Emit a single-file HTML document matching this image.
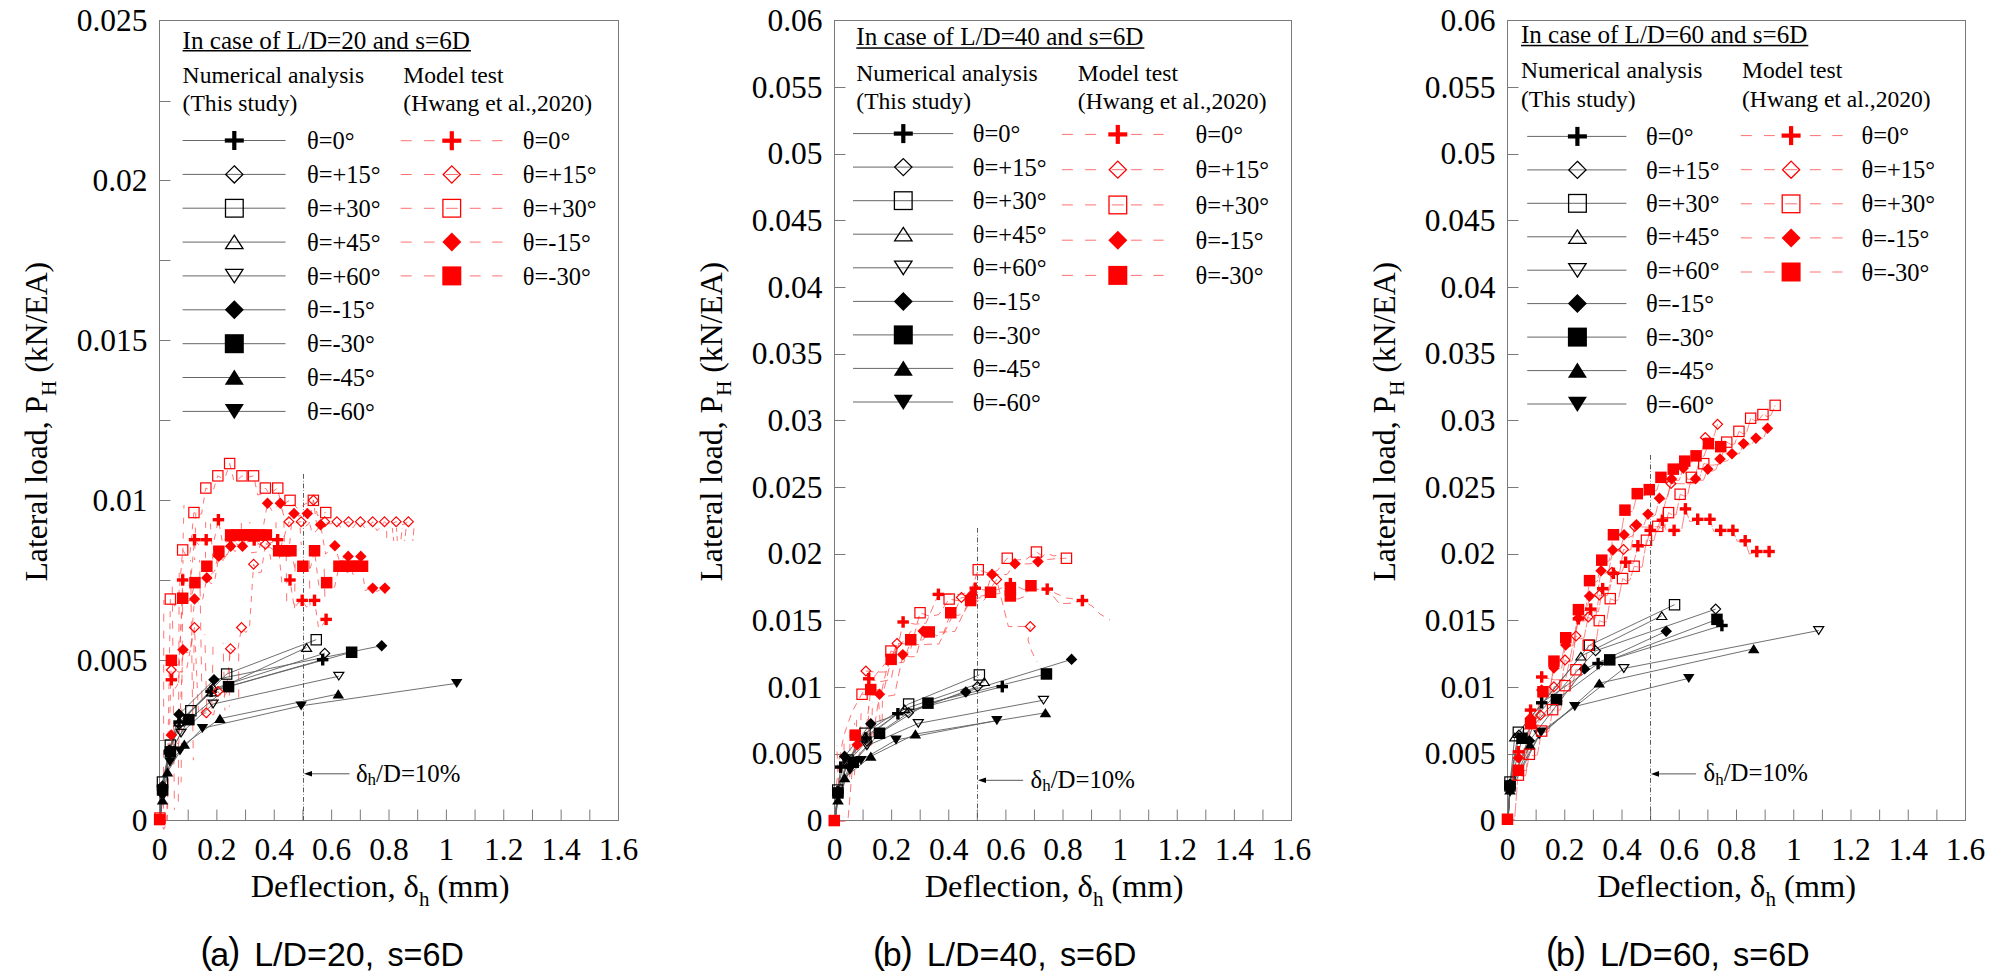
<!DOCTYPE html><html><head><meta charset="utf-8"><style>html,body{margin:0;padding:0;background:#fff;width:2008px;height:979px;overflow:hidden}svg{position:absolute;left:0;top:0}text{font-family:'Liberation Serif', serif;fill:#000}</style></head><body>
<svg width="2008" height="979" viewBox="0 0 2008 979">
<rect x="159.5" y="20.5" width="459.0" height="800.0" fill="none" stroke="#7a7a7a" stroke-width="1"/>
<line x1="159.5" y1="820.5" x2="170.5" y2="820.5" stroke="#7a7a7a" stroke-width="1"/>
<line x1="159.5" y1="740.5" x2="170.5" y2="740.5" stroke="#7a7a7a" stroke-width="1"/>
<line x1="159.5" y1="660.5" x2="170.5" y2="660.5" stroke="#7a7a7a" stroke-width="1"/>
<line x1="159.5" y1="580.5" x2="170.5" y2="580.5" stroke="#7a7a7a" stroke-width="1"/>
<line x1="159.5" y1="500.5" x2="170.5" y2="500.5" stroke="#7a7a7a" stroke-width="1"/>
<line x1="159.5" y1="420.5" x2="170.5" y2="420.5" stroke="#7a7a7a" stroke-width="1"/>
<line x1="159.5" y1="340.5" x2="170.5" y2="340.5" stroke="#7a7a7a" stroke-width="1"/>
<line x1="159.5" y1="260.5" x2="170.5" y2="260.5" stroke="#7a7a7a" stroke-width="1"/>
<line x1="159.5" y1="180.5" x2="170.5" y2="180.5" stroke="#7a7a7a" stroke-width="1"/>
<line x1="159.5" y1="101.5" x2="170.5" y2="101.5" stroke="#7a7a7a" stroke-width="1"/>
<line x1="159.5" y1="20.5" x2="170.5" y2="20.5" stroke="#7a7a7a" stroke-width="1"/>
<line x1="159.5" y1="820.5" x2="159.5" y2="809.5" stroke="#7a7a7a" stroke-width="1"/>
<line x1="188.1875" y1="820.5" x2="188.1875" y2="809.5" stroke="#7a7a7a" stroke-width="1"/>
<line x1="216.875" y1="820.5" x2="216.875" y2="809.5" stroke="#7a7a7a" stroke-width="1"/>
<line x1="245.5625" y1="820.5" x2="245.5625" y2="809.5" stroke="#7a7a7a" stroke-width="1"/>
<line x1="274.25" y1="820.5" x2="274.25" y2="809.5" stroke="#7a7a7a" stroke-width="1"/>
<line x1="302.9375" y1="820.5" x2="302.9375" y2="809.5" stroke="#7a7a7a" stroke-width="1"/>
<line x1="331.625" y1="820.5" x2="331.625" y2="809.5" stroke="#7a7a7a" stroke-width="1"/>
<line x1="360.3125" y1="820.5" x2="360.3125" y2="809.5" stroke="#7a7a7a" stroke-width="1"/>
<line x1="389.0" y1="820.5" x2="389.0" y2="809.5" stroke="#7a7a7a" stroke-width="1"/>
<line x1="417.6875" y1="820.5" x2="417.6875" y2="809.5" stroke="#7a7a7a" stroke-width="1"/>
<line x1="446.375" y1="820.5" x2="446.375" y2="809.5" stroke="#7a7a7a" stroke-width="1"/>
<line x1="475.0625" y1="820.5" x2="475.0625" y2="809.5" stroke="#7a7a7a" stroke-width="1"/>
<line x1="503.75000000000006" y1="820.5" x2="503.75000000000006" y2="809.5" stroke="#7a7a7a" stroke-width="1"/>
<line x1="532.4375" y1="820.5" x2="532.4375" y2="809.5" stroke="#7a7a7a" stroke-width="1"/>
<line x1="561.125" y1="820.5" x2="561.125" y2="809.5" stroke="#7a7a7a" stroke-width="1"/>
<line x1="589.8125" y1="820.5" x2="589.8125" y2="809.5" stroke="#7a7a7a" stroke-width="1"/>
<line x1="618.5" y1="820.5" x2="618.5" y2="809.5" stroke="#7a7a7a" stroke-width="1"/>
<text x="147.5" y="831.0" font-size="31.5" text-anchor="end" >0</text>
<text x="147.5" y="671.0" font-size="31.5" text-anchor="end" >0.005</text>
<text x="147.5" y="511.0" font-size="31.5" text-anchor="end" >0.01</text>
<text x="147.5" y="351.0" font-size="31.5" text-anchor="end" >0.015</text>
<text x="147.5" y="191.0" font-size="31.5" text-anchor="end" >0.02</text>
<text x="147.5" y="31.0" font-size="31.5" text-anchor="end" >0.025</text>
<text x="159.5" y="859.5" font-size="31.5" text-anchor="middle" >0</text>
<text x="216.9" y="859.5" font-size="31.5" text-anchor="middle" >0.2</text>
<text x="274.2" y="859.5" font-size="31.5" text-anchor="middle" >0.4</text>
<text x="331.6" y="859.5" font-size="31.5" text-anchor="middle" >0.6</text>
<text x="389.0" y="859.5" font-size="31.5" text-anchor="middle" >0.8</text>
<text x="446.4" y="859.5" font-size="31.5" text-anchor="middle" >1</text>
<text x="503.8" y="859.5" font-size="31.5" text-anchor="middle" >1.2</text>
<text x="561.1" y="859.5" font-size="31.5" text-anchor="middle" >1.4</text>
<text x="618.5" y="859.5" font-size="31.5" text-anchor="middle" >1.6</text>
<text x="250.7" y="897.3" font-size="32.4">Deflection, <tspan font-size="32.5">δ</tspan><tspan font-size="21" dy="8.2">h</tspan><tspan dy="-8.2"> (mm)</tspan></text>
<text transform="translate(47.0,581.5) rotate(-90)" font-size="31.7">Lateral load, P<tspan font-size="21" dy="9">H</tspan><tspan dy="-9"> (kN/EA)</tspan></text>
<text x="200.4" y="962.6" font-size="36" style="font-family:'Liberation Sans', sans-serif" >(</text>
<text x="210.2" y="965.6" font-size="34" style="font-family:'Liberation Sans', sans-serif" >a</text>
<text x="228.3" y="962.6" font-size="36" style="font-family:'Liberation Sans', sans-serif" >)</text>
<text x="254.2" y="965.6" font-size="34" style="font-family:'Liberation Sans', sans-serif" >L/D=20,</text>
<text x="387.4" y="965.6" font-size="34" style="font-family:'Liberation Sans', sans-serif" textLength="76.5" lengthAdjust="spacingAndGlyphs">s=6D</text>
<text x="182.6" y="48.6" font-size="24.5" textLength="287.3" lengthAdjust="spacingAndGlyphs">In case of L/D=20 and s=6D</text>
<rect x="182.6" y="50.0" width="288.3" height="1.5" fill="#000"/>
<text x="182.6" y="83.3" font-size="23.6" text-anchor="start" >Numerical analysis</text>
<text x="182.6" y="110.8" font-size="23.6" text-anchor="start" >(This study)</text>
<text x="403.3" y="83.3" font-size="23.6" text-anchor="start" >Model test</text>
<text x="403.3" y="110.8" font-size="23.6" text-anchor="start" >(Hwang et al.,2020)</text>
<line x1="182.6" y1="140.5" x2="285.5" y2="140.5" stroke="#666" stroke-width="1"/>
<rect x="224.8" y="138.4" width="19.0" height="4.2" fill="#000"/><rect x="232.2" y="131.0" width="4.2" height="19.0" fill="#000"/>
<text x="306.9" y="149.1" font-size="24.5" text-anchor="start" >θ=0°</text>
<line x1="182.6" y1="174.4" x2="285.5" y2="174.4" stroke="#666" stroke-width="1"/>
<polygon points="234.3,165.8 242.9,174.4 234.3,183.0 225.7,174.4" fill="none" stroke="#000" stroke-width="1.3"/>
<text x="306.9" y="183.0" font-size="24.5" text-anchor="start" >θ=+15°</text>
<line x1="182.6" y1="208.2" x2="285.5" y2="208.2" stroke="#666" stroke-width="1"/>
<rect x="225.5" y="199.4" width="17.7" height="17.7" fill="none" stroke="#000" stroke-width="1.3"/>
<text x="306.9" y="216.8" font-size="24.5" text-anchor="start" >θ=+30°</text>
<line x1="182.6" y1="242.1" x2="285.5" y2="242.1" stroke="#666" stroke-width="1"/>
<polygon points="234.3,235.2 243.0,248.7 225.6,248.7" fill="none" stroke="#000" stroke-width="1.3"/>
<text x="306.9" y="250.7" font-size="24.5" text-anchor="start" >θ=+45°</text>
<line x1="182.6" y1="275.9" x2="285.5" y2="275.9" stroke="#666" stroke-width="1"/>
<polygon points="234.3,282.8 243.0,269.3 225.6,269.3" fill="none" stroke="#000" stroke-width="1.3"/>
<text x="306.9" y="284.5" font-size="24.5" text-anchor="start" >θ=+60°</text>
<line x1="182.6" y1="309.8" x2="285.5" y2="309.8" stroke="#666" stroke-width="1"/>
<polygon points="234.3,300.3 243.8,309.8 234.3,319.3 224.8,309.8" fill="#000" stroke="none" stroke-width="1.3"/>
<text x="306.9" y="318.4" font-size="24.5" text-anchor="start" >θ=-15°</text>
<line x1="182.6" y1="343.7" x2="285.5" y2="343.7" stroke="#666" stroke-width="1"/>
<rect x="224.8" y="334.2" width="19.0" height="19.0" fill="#000" stroke="none" stroke-width="1.3"/>
<text x="306.9" y="352.3" font-size="24.5" text-anchor="start" >θ=-30°</text>
<line x1="182.6" y1="377.5" x2="285.5" y2="377.5" stroke="#666" stroke-width="1"/>
<polygon points="234.3,369.6 243.8,384.8 224.8,384.8" fill="#000" stroke="none" stroke-width="1.3"/>
<text x="306.9" y="386.1" font-size="24.5" text-anchor="start" >θ=-45°</text>
<line x1="182.6" y1="411.4" x2="285.5" y2="411.4" stroke="#666" stroke-width="1"/>
<polygon points="234.3,419.3 243.8,404.1 224.8,404.1" fill="#000" stroke="none" stroke-width="1.3"/>
<text x="306.9" y="420.0" font-size="24.5" text-anchor="start" >θ=-60°</text>
<line x1="400.7" y1="140.7" x2="411.7" y2="140.7" stroke="#ff7070" stroke-width="1"/>
<line x1="423.9" y1="140.7" x2="434.7" y2="140.7" stroke="#ff7070" stroke-width="1"/>
<line x1="469.7" y1="140.7" x2="480.7" y2="140.7" stroke="#ff7070" stroke-width="1"/>
<line x1="492.2" y1="140.7" x2="502.4" y2="140.7" stroke="#ff7070" stroke-width="1"/>
<rect x="442.3" y="138.6" width="19.0" height="4.2" fill="#ff0000"/><rect x="449.7" y="131.2" width="4.2" height="19.0" fill="#ff0000"/>
<text x="522.8" y="149.3" font-size="24.5" text-anchor="start" >θ=0°</text>
<line x1="400.7" y1="174.5" x2="411.7" y2="174.5" stroke="#ff7070" stroke-width="1"/>
<line x1="423.9" y1="174.5" x2="434.7" y2="174.5" stroke="#ff7070" stroke-width="1"/>
<line x1="469.7" y1="174.5" x2="480.7" y2="174.5" stroke="#ff7070" stroke-width="1"/>
<line x1="492.2" y1="174.5" x2="502.4" y2="174.5" stroke="#ff7070" stroke-width="1"/>
<polygon points="451.8,165.9 460.4,174.5 451.8,183.1 443.2,174.5" fill="none" stroke="#ff0000" stroke-width="1.3"/>
<line x1="445.8" y1="174.5" x2="457.8" y2="174.5" stroke="#ff7070" stroke-width="1"/>
<text x="522.8" y="183.1" font-size="24.5" text-anchor="start" >θ=+15°</text>
<line x1="400.7" y1="208.3" x2="411.7" y2="208.3" stroke="#ff7070" stroke-width="1"/>
<line x1="423.9" y1="208.3" x2="434.7" y2="208.3" stroke="#ff7070" stroke-width="1"/>
<line x1="469.7" y1="208.3" x2="480.7" y2="208.3" stroke="#ff7070" stroke-width="1"/>
<line x1="492.2" y1="208.3" x2="502.4" y2="208.3" stroke="#ff7070" stroke-width="1"/>
<rect x="442.9" y="199.4" width="17.7" height="17.7" fill="none" stroke="#ff0000" stroke-width="1.3"/>
<line x1="445.8" y1="208.3" x2="457.8" y2="208.3" stroke="#ff7070" stroke-width="1"/>
<text x="522.8" y="216.9" font-size="24.5" text-anchor="start" >θ=+30°</text>
<line x1="400.7" y1="242.1" x2="411.7" y2="242.1" stroke="#ff7070" stroke-width="1"/>
<line x1="423.9" y1="242.1" x2="434.7" y2="242.1" stroke="#ff7070" stroke-width="1"/>
<line x1="469.7" y1="242.1" x2="480.7" y2="242.1" stroke="#ff7070" stroke-width="1"/>
<line x1="492.2" y1="242.1" x2="502.4" y2="242.1" stroke="#ff7070" stroke-width="1"/>
<polygon points="451.8,232.6 461.3,242.1 451.8,251.6 442.3,242.1" fill="#ff0000" stroke="none" stroke-width="1.3"/>
<text x="522.8" y="250.7" font-size="24.5" text-anchor="start" >θ=-15°</text>
<line x1="400.7" y1="275.9" x2="411.7" y2="275.9" stroke="#ff7070" stroke-width="1"/>
<line x1="423.9" y1="275.9" x2="434.7" y2="275.9" stroke="#ff7070" stroke-width="1"/>
<line x1="469.7" y1="275.9" x2="480.7" y2="275.9" stroke="#ff7070" stroke-width="1"/>
<line x1="492.2" y1="275.9" x2="502.4" y2="275.9" stroke="#ff7070" stroke-width="1"/>
<rect x="442.3" y="266.4" width="19.0" height="19.0" fill="#ff0000" stroke="none" stroke-width="1.3"/>
<text x="522.8" y="284.5" font-size="24.5" text-anchor="start" >θ=-30°</text>
<line x1="303.5" y1="474" x2="303.5" y2="820.5" stroke="#5a5a5a" stroke-width="1" stroke-dasharray="4.8,2,0.7,2"/>
<line x1="310.0" y1="773.8" x2="349.5" y2="773.8" stroke="#555" stroke-width="1"/>
<polygon points="304.0,773.8 312.0,771.0 312.0,776.5999999999999" fill="#000"/>
<text x="355.9" y="781.5" font-size="24.8">δ<tspan font-size="17" dy="3.5">h</tspan><tspan dy="-3.5">/D=10%</tspan></text>
<polyline points="160.0,818.0 163.6,822.6 166.8,819.4 170.4,599.0 174.7,606.2 178.4,600.8 182.7,549.9 186.6,556.2 190.0,552.8 193.9,512.5 198.1,515.0 201.6,513.9 205.8,488.0 210.0,490.3 213.6,489.2 217.8,475.8 222.0,478.4 225.5,476.5 229.7,463.5 234.0,481.2 237.6,480.0 241.9,475.8 246.0,478.8 249.5,476.9 253.6,475.8 257.7,495.0 261.3,494.1 265.4,488.0 269.7,494.6 273.4,491.2 277.7,488.0 282.0,510.1 285.7,502.6 290.0,500.3 298.2,509.2 305.2,503.9 313.4,500.3 317.7,515.7 321.4,513.4 325.7,512.5" fill="none" stroke="#ff5252" stroke-width="0.8" stroke-dasharray="6,6" stroke-dashoffset="3.4"/>
<polyline points="171.3,679.8 175.3,688.3 178.7,682.6 182.7,580.0 186.8,586.7 190.4,584.3 194.5,539.7 198.6,544.7 202.1,542.6 206.2,539.7 210.5,542.2 214.1,540.3 218.4,519.7 222.6,543.3 226.3,542.2 230.5,539.7 238.8,545.4 245.9,542.3 254.2,540.0 262.4,546.7 269.5,543.5 277.7,539.7 282.0,584.4 285.7,583.3 290.0,580.0 294.3,608.0 297.9,603.2 302.2,600.4 306.5,607.0 310.2,604.1 314.5,600.4 318.6,628.4 322.0,625.8 326.1,619.4" fill="none" stroke="#ff5252" stroke-width="0.8" stroke-dasharray="6,6" stroke-dashoffset="3.2"/>
<polyline points="159.7,819.5 163.8,829.3 167.2,822.3 171.3,660.4 175.3,665.7 178.7,664.3 182.7,598.3 187.0,601.5 190.6,600.0 194.9,582.6 199.1,584.9 202.6,584.1 206.8,566.3 211.0,574.4 214.6,571.2 218.8,551.3 223.0,560.3 226.5,555.1 230.7,535.0 232.9,542.6 234.8,539.7 237.0,535.0 239.1,541.6 240.9,538.4 243.0,535.0 245.1,543.7 246.9,542.5 249.0,535.0 250.8,540.8 252.4,538.9 254.2,535.0 256.2,537.5 258.0,536.7 260.0,535.0 262.2,542.2 264.2,541.4 266.4,535.0 270.7,559.3 274.4,554.1 278.7,550.7 280.9,555.8 282.8,554.1 285.0,550.7 287.1,552.9 288.9,551.8 291.0,550.7 295.1,569.6 298.7,567.2 302.8,566.3 306.9,568.8 310.4,568.1 314.5,550.7 318.8,585.6 322.4,583.7 326.7,582.6 331.0,587.7 334.7,586.8 339.0,566.3 341.1,568.9 342.9,567.7 345.0,566.3 347.2,572.7 349.0,571.5 351.2,566.3 353.2,574.9 355.0,573.2 357.0,566.3 358.9,570.5 360.6,568.4 362.5,566.3" fill="none" stroke="#ff5252" stroke-width="0.8" stroke-dasharray="6,6" stroke-dashoffset="3.9"/>
<polyline points="171.3,735.0 175.4,744.1 178.9,742.9 183.0,649.7 187.0,652.9 190.5,650.7 194.5,599.0 198.8,602.9 202.5,600.4 206.8,577.9 211.0,583.8 214.6,581.5 218.8,556.4 223.0,560.5 226.5,557.2 230.7,546.2 234.8,551.6 238.4,548.7 242.5,546.2 251.2,552.7 258.8,551.9 267.5,503.3 272.0,510.8 275.8,507.5 280.3,503.3 285.1,520.4 289.2,518.2 294.0,513.5 298.7,515.9 302.6,515.5 307.3,513.5 312.0,533.0 315.9,531.5 320.6,524.8 325.6,554.2 329.9,549.8 334.9,545.8 339.6,561.6 343.5,557.8 348.2,556.4 352.6,563.5 356.4,558.1 360.8,556.4 365.0,590.6 368.5,589.0 372.7,588.1 377.0,591.4 380.6,589.5 384.9,588.1" fill="none" stroke="#ff5252" stroke-width="0.8" stroke-dasharray="6,6" stroke-dashoffset="0.6"/>
<polyline points="171.3,670.0 179.4,672.0 186.4,670.6 194.5,627.5 198.6,715.6 202.2,714.1 206.3,712.8 210.4,715.0 213.8,714.6 217.9,691.4 222.3,698.3 226.1,693.5 230.5,648.7 234.3,652.7 237.7,650.5 241.5,627.5 245.7,632.4 249.4,628.9 253.6,564.2 257.7,573.0 261.3,572.1 265.4,544.2 273.6,549.9 280.7,547.3 288.9,521.7 293.2,524.4 296.9,522.4 301.2,521.7 305.5,526.4 309.1,523.5 313.4,500.3 317.4,530.3 320.7,524.4 324.7,521.7 329.0,523.9 332.6,523.6 336.9,521.7 341.0,527.9 344.5,523.6 348.6,521.7 352.7,528.0 356.3,523.1 360.4,521.7 364.7,527.9 368.4,527.2 372.7,521.7 376.8,530.6 380.4,527.8 384.5,521.7 388.6,525.8 392.1,523.6 396.2,521.7 400.5,525.0 404.1,524.2 408.4,521.7" fill="none" stroke="#ff5252" stroke-width="0.8" stroke-dasharray="6,6" stroke-dashoffset="5.9"/>
<line x1="163.8" y1="600.0" x2="163.5" y2="818.0" stroke="#ff5252" stroke-width="0.8" stroke-dasharray="8,9" stroke-dashoffset="3.3"/>
<line x1="172.2" y1="581.8" x2="174.4" y2="809.8" stroke="#ff5252" stroke-width="0.8" stroke-dasharray="8,9" stroke-dashoffset="12.1"/>
<line x1="179.2" y1="563.6" x2="178.3" y2="801.6" stroke="#ff5252" stroke-width="0.8" stroke-dasharray="8,9" stroke-dashoffset="7.8"/>
<line x1="183.0" y1="560.0" x2="181.1" y2="782.4" stroke="#ff5252" stroke-width="0.8" stroke-dasharray="8,9" stroke-dashoffset="4.2"/>
<line x1="190.5" y1="560.0" x2="193.3" y2="760.2" stroke="#ff5252" stroke-width="0.8" stroke-dasharray="8,9" stroke-dashoffset="6.7"/>
<line x1="199.6" y1="560.0" x2="202.4" y2="727.4" stroke="#ff5252" stroke-width="0.8" stroke-dasharray="8,9" stroke-dashoffset="5.5"/>
<line x1="194.2" y1="630.0" x2="193.2" y2="720.0" stroke="#ff5252" stroke-width="0.8" stroke-dasharray="8,10" stroke-dashoffset="3.1"/>
<line x1="204.8" y1="634.3" x2="207.0" y2="717.9" stroke="#ff5252" stroke-width="0.8" stroke-dasharray="8,10" stroke-dashoffset="7.2"/>
<line x1="213.2" y1="638.7" x2="211.7" y2="715.7" stroke="#ff5252" stroke-width="0.8" stroke-dasharray="8,10" stroke-dashoffset="9.9"/>
<line x1="223.1" y1="642.9" x2="224.9" y2="710.6" stroke="#ff5252" stroke-width="0.8" stroke-dasharray="8,10" stroke-dashoffset="7.2"/>
<line x1="229.6" y1="645.5" x2="229.3" y2="706.7" stroke="#ff5252" stroke-width="0.8" stroke-dasharray="8,10" stroke-dashoffset="12.0"/>
<line x1="238.7" y1="649.6" x2="238.7" y2="700.6" stroke="#ff5252" stroke-width="0.8" stroke-dasharray="8,10" stroke-dashoffset="14.2"/>
<line x1="184.0" y1="505.0" x2="182.6" y2="560.0" stroke="#ff5252" stroke-width="0.8" stroke-dasharray="6,9" stroke-dashoffset="2.3"/>
<line x1="195.9" y1="510.0" x2="194.6" y2="560.0" stroke="#ff5252" stroke-width="0.8" stroke-dasharray="6,9" stroke-dashoffset="12.4"/>
<line x1="205.7" y1="515.1" x2="205.5" y2="560.0" stroke="#ff5252" stroke-width="0.8" stroke-dasharray="6,9" stroke-dashoffset="8.2"/>
<line x1="210.0" y1="518.2" x2="212.9" y2="560.0" stroke="#ff5252" stroke-width="0.8" stroke-dasharray="6,9" stroke-dashoffset="9.7"/>
<line x1="241.3" y1="522.0" x2="241.5" y2="545.0" stroke="#ff5252" stroke-width="0.8" stroke-dasharray="6,8" stroke-dashoffset="13.1"/>
<line x1="249.9" y1="522.0" x2="249.2" y2="545.0" stroke="#ff5252" stroke-width="0.8" stroke-dasharray="6,8" stroke-dashoffset="4.4"/>
<line x1="258.6" y1="522.0" x2="257.9" y2="545.0" stroke="#ff5252" stroke-width="0.8" stroke-dasharray="6,8" stroke-dashoffset="6.3"/>
<line x1="266.6" y1="522.0" x2="266.4" y2="545.0" stroke="#ff5252" stroke-width="0.8" stroke-dasharray="6,8" stroke-dashoffset="6.9"/>
<line x1="276.0" y1="522.0" x2="276.1" y2="545.0" stroke="#ff5252" stroke-width="0.8" stroke-dasharray="6,8" stroke-dashoffset="13.8"/>
<line x1="283.9" y1="522.0" x2="284.5" y2="545.0" stroke="#ff5252" stroke-width="0.8" stroke-dasharray="6,8" stroke-dashoffset="0.3"/>
<line x1="291.6" y1="522.0" x2="289.6" y2="545.0" stroke="#ff5252" stroke-width="0.8" stroke-dasharray="6,8" stroke-dashoffset="12.0"/>
<line x1="299.7" y1="522.0" x2="301.3" y2="545.0" stroke="#ff5252" stroke-width="0.8" stroke-dasharray="6,8" stroke-dashoffset="8.3"/>
<line x1="286.1" y1="545.0" x2="286.8" y2="610.0" stroke="#ff5252" stroke-width="0.8" stroke-dasharray="8,12" stroke-dashoffset="11.8"/>
<line x1="295.3" y1="547.7" x2="294.6" y2="608.2" stroke="#ff5252" stroke-width="0.8" stroke-dasharray="8,12" stroke-dashoffset="4.2"/>
<line x1="309.1" y1="551.9" x2="310.0" y2="605.4" stroke="#ff5252" stroke-width="0.8" stroke-dasharray="8,12" stroke-dashoffset="11.4"/>
<line x1="323.9" y1="556.4" x2="325.0" y2="602.4" stroke="#ff5252" stroke-width="0.8" stroke-dasharray="8,12" stroke-dashoffset="7.6"/>
<line x1="386.6" y1="528.0" x2="386.8" y2="541.0" stroke="#ff5252" stroke-width="0.8" stroke-dasharray="7,4" stroke-dashoffset="8.0"/>
<line x1="392.3" y1="528.0" x2="393.8" y2="541.0" stroke="#ff5252" stroke-width="0.8" stroke-dasharray="7,4" stroke-dashoffset="13.1"/>
<line x1="396.5" y1="528.0" x2="397.3" y2="541.0" stroke="#ff5252" stroke-width="0.8" stroke-dasharray="7,4" stroke-dashoffset="14.1"/>
<line x1="402.2" y1="528.0" x2="400.8" y2="541.0" stroke="#ff5252" stroke-width="0.8" stroke-dasharray="7,4" stroke-dashoffset="6.6"/>
<line x1="406.2" y1="528.0" x2="404.6" y2="541.0" stroke="#ff5252" stroke-width="0.8" stroke-dasharray="7,4" stroke-dashoffset="10.0"/>
<line x1="414.0" y1="528.0" x2="412.8" y2="541.0" stroke="#ff5252" stroke-width="0.8" stroke-dasharray="7,4" stroke-dashoffset="10.7"/>
<polyline points="160.0,820.5 162.5,797.0 170.0,762.0 180.0,750.8 202.4,728.3 301.2,705.8 456.7,683.3" fill="none" stroke="#606060" stroke-width="0.9"/>
<polyline points="160.0,820.5 162.5,800.0 167.5,772.0 184.3,744.4 219.9,718.6 338.3,694.0" fill="none" stroke="#606060" stroke-width="0.9"/>
<polyline points="160.0,820.5 162.5,790.0 169.4,755.0 181.0,733.1 213.1,704.0 338.8,676.2" fill="none" stroke="#606060" stroke-width="0.9"/>
<polyline points="160.0,820.5 162.5,786.0 169.4,750.0 179.1,722.0 211.5,692.0 306.6,647.5" fill="none" stroke="#606060" stroke-width="0.9"/>
<polyline points="160.0,820.5 162.5,782.0 170.4,745.0 190.8,710.8 226.7,674.0 316.2,639.7" fill="none" stroke="#606060" stroke-width="0.9"/>
<polyline points="160.0,820.5 162.5,786.0 169.4,752.0 179.1,724.0 212.5,689.0 324.8,653.2" fill="none" stroke="#606060" stroke-width="0.9"/>
<polyline points="160.0,820.5 162.5,788.0 169.4,752.6 179.1,722.0 211.1,691.4 322.7,659.7" fill="none" stroke="#606060" stroke-width="0.9"/>
<polyline points="160.0,820.5 162.5,790.0 170.4,751.9 188.8,719.6 228.6,686.6 351.6,652.2" fill="none" stroke="#606060" stroke-width="0.9"/>
<polyline points="160.0,820.5 162.5,789.0 169.4,750.0 179.0,714.4 214.0,679.8 381.7,645.7" fill="none" stroke="#606060" stroke-width="0.9"/>
<polygon points="162.5,801.8 168.2,792.6 156.8,792.6" fill="#000" stroke="none" stroke-width="1.2"/>
<polygon points="170.0,766.8 175.8,757.6 164.2,757.6" fill="#000" stroke="none" stroke-width="1.2"/>
<polygon points="180.0,755.6 185.8,746.4 174.2,746.4" fill="#000" stroke="none" stroke-width="1.2"/>
<polygon points="202.4,733.1 208.2,723.9 196.7,723.9" fill="#000" stroke="none" stroke-width="1.2"/>
<polygon points="301.2,710.6 306.9,701.4 295.4,701.4" fill="#000" stroke="none" stroke-width="1.2"/>
<polygon points="456.7,688.1 462.4,678.9 450.9,678.9" fill="#000" stroke="none" stroke-width="1.2"/>
<polygon points="162.5,795.2 168.2,804.4 156.8,804.4" fill="#000" stroke="none" stroke-width="1.2"/>
<polygon points="167.5,767.2 173.2,776.4 161.8,776.4" fill="#000" stroke="none" stroke-width="1.2"/>
<polygon points="184.3,739.6 190.1,748.8 178.6,748.8" fill="#000" stroke="none" stroke-width="1.2"/>
<polygon points="219.9,713.8 225.7,723.0 214.2,723.0" fill="#000" stroke="none" stroke-width="1.2"/>
<polygon points="338.3,689.2 344.1,698.4 332.6,698.4" fill="#000" stroke="none" stroke-width="1.2"/>
<polygon points="162.5,793.8 167.5,786.2 157.5,786.2" fill="none" stroke="#000" stroke-width="1.2"/>
<polygon points="169.4,758.8 174.4,751.2 164.4,751.2" fill="none" stroke="#000" stroke-width="1.2"/>
<polygon points="181.0,736.9 186.0,729.3 176.0,729.3" fill="none" stroke="#000" stroke-width="1.2"/>
<polygon points="213.1,707.8 218.1,700.2 208.1,700.2" fill="none" stroke="#000" stroke-width="1.2"/>
<polygon points="338.8,680.0 343.8,672.4 333.8,672.4" fill="none" stroke="#000" stroke-width="1.2"/>
<polygon points="162.5,782.2 167.5,789.8 157.5,789.8" fill="none" stroke="#000" stroke-width="1.2"/>
<polygon points="169.4,746.2 174.4,753.8 164.4,753.8" fill="none" stroke="#000" stroke-width="1.2"/>
<polygon points="179.1,718.2 184.1,725.8 174.1,725.8" fill="none" stroke="#000" stroke-width="1.2"/>
<polygon points="211.5,688.2 216.5,695.8 206.5,695.8" fill="none" stroke="#000" stroke-width="1.2"/>
<polygon points="306.6,643.7 311.6,651.3 301.6,651.3" fill="none" stroke="#000" stroke-width="1.2"/>
<rect x="157.3" y="776.9" width="10.3" height="10.3" fill="none" stroke="#000" stroke-width="1.2"/>
<rect x="165.2" y="739.9" width="10.3" height="10.3" fill="none" stroke="#000" stroke-width="1.2"/>
<rect x="185.7" y="705.6" width="10.3" height="10.3" fill="none" stroke="#000" stroke-width="1.2"/>
<rect x="221.5" y="668.9" width="10.3" height="10.3" fill="none" stroke="#000" stroke-width="1.2"/>
<rect x="311.1" y="634.6" width="10.3" height="10.3" fill="none" stroke="#000" stroke-width="1.2"/>
<polygon points="162.5,781.1 167.4,786.0 162.5,790.9 157.6,786.0" fill="none" stroke="#000" stroke-width="1.2"/>
<polygon points="169.4,747.1 174.3,752.0 169.4,756.9 164.5,752.0" fill="none" stroke="#000" stroke-width="1.2"/>
<polygon points="179.1,719.1 184.0,724.0 179.1,728.9 174.2,724.0" fill="none" stroke="#000" stroke-width="1.2"/>
<polygon points="212.5,684.1 217.4,689.0 212.5,693.9 207.6,689.0" fill="none" stroke="#000" stroke-width="1.2"/>
<polygon points="324.8,648.3 329.7,653.2 324.8,658.1 319.9,653.2" fill="none" stroke="#000" stroke-width="1.2"/>
<rect x="156.8" y="786.3" width="11.5" height="3.4" fill="#000"/><rect x="160.8" y="782.2" width="3.4" height="11.5" fill="#000"/>
<rect x="163.7" y="750.9" width="11.5" height="3.4" fill="#000"/><rect x="167.7" y="746.9" width="3.4" height="11.5" fill="#000"/>
<rect x="173.3" y="720.3" width="11.5" height="3.4" fill="#000"/><rect x="177.4" y="716.2" width="3.4" height="11.5" fill="#000"/>
<rect x="205.3" y="689.7" width="11.5" height="3.4" fill="#000"/><rect x="209.4" y="685.6" width="3.4" height="11.5" fill="#000"/>
<rect x="316.9" y="658.0" width="11.5" height="3.4" fill="#000"/><rect x="321.0" y="654.0" width="3.4" height="11.5" fill="#000"/>
<rect x="156.8" y="784.2" width="11.5" height="11.5" fill="#000" stroke="none" stroke-width="1.2"/>
<rect x="164.7" y="746.1" width="11.5" height="11.5" fill="#000" stroke="none" stroke-width="1.2"/>
<rect x="183.1" y="713.9" width="11.5" height="11.5" fill="#000" stroke="none" stroke-width="1.2"/>
<rect x="222.8" y="680.9" width="11.5" height="11.5" fill="#000" stroke="none" stroke-width="1.2"/>
<rect x="345.9" y="646.5" width="11.5" height="11.5" fill="#000" stroke="none" stroke-width="1.2"/>
<polygon points="162.5,783.2 168.2,789.0 162.5,794.8 156.8,789.0" fill="#000" stroke="none" stroke-width="1.2"/>
<polygon points="169.4,744.2 175.2,750.0 169.4,755.8 163.7,750.0" fill="#000" stroke="none" stroke-width="1.2"/>
<polygon points="179.0,708.6 184.8,714.4 179.0,720.1 173.2,714.4" fill="#000" stroke="none" stroke-width="1.2"/>
<polygon points="214.0,674.0 219.8,679.8 214.0,685.5 208.2,679.8" fill="#000" stroke="none" stroke-width="1.2"/>
<polygon points="381.7,640.0 387.4,645.7 381.7,651.5 375.9,645.7" fill="#000" stroke="none" stroke-width="1.2"/>
<rect x="154.8" y="812.9" width="10.3" height="10.3" fill="none" stroke="#ff0000" stroke-width="1.2"/>
<rect x="165.2" y="593.9" width="10.3" height="10.3" fill="none" stroke="#ff0000" stroke-width="1.2"/>
<rect x="177.5" y="544.8" width="10.3" height="10.3" fill="none" stroke="#ff0000" stroke-width="1.2"/>
<rect x="188.8" y="507.4" width="10.3" height="10.3" fill="none" stroke="#ff0000" stroke-width="1.2"/>
<rect x="200.7" y="482.9" width="10.3" height="10.3" fill="none" stroke="#ff0000" stroke-width="1.2"/>
<rect x="212.7" y="470.7" width="10.3" height="10.3" fill="none" stroke="#ff0000" stroke-width="1.2"/>
<rect x="224.5" y="458.4" width="10.3" height="10.3" fill="none" stroke="#ff0000" stroke-width="1.2"/>
<rect x="236.8" y="470.7" width="10.3" height="10.3" fill="none" stroke="#ff0000" stroke-width="1.2"/>
<rect x="248.4" y="470.7" width="10.3" height="10.3" fill="none" stroke="#ff0000" stroke-width="1.2"/>
<rect x="260.2" y="482.9" width="10.3" height="10.3" fill="none" stroke="#ff0000" stroke-width="1.2"/>
<rect x="272.6" y="482.9" width="10.3" height="10.3" fill="none" stroke="#ff0000" stroke-width="1.2"/>
<rect x="284.9" y="495.2" width="10.3" height="10.3" fill="none" stroke="#ff0000" stroke-width="1.2"/>
<rect x="308.2" y="495.2" width="10.3" height="10.3" fill="none" stroke="#ff0000" stroke-width="1.2"/>
<rect x="320.6" y="507.4" width="10.3" height="10.3" fill="none" stroke="#ff0000" stroke-width="1.2"/>
<rect x="165.6" y="678.1" width="11.5" height="3.4" fill="#ff0000"/><rect x="169.6" y="674.0" width="3.4" height="11.5" fill="#ff0000"/>
<rect x="176.9" y="578.3" width="11.5" height="3.4" fill="#ff0000"/><rect x="181.0" y="574.2" width="3.4" height="11.5" fill="#ff0000"/>
<rect x="188.8" y="538.0" width="11.5" height="3.4" fill="#ff0000"/><rect x="192.8" y="534.0" width="3.4" height="11.5" fill="#ff0000"/>
<rect x="200.4" y="538.0" width="11.5" height="3.4" fill="#ff0000"/><rect x="204.5" y="534.0" width="3.4" height="11.5" fill="#ff0000"/>
<rect x="212.7" y="518.0" width="11.5" height="3.4" fill="#ff0000"/><rect x="216.7" y="514.0" width="3.4" height="11.5" fill="#ff0000"/>
<rect x="224.8" y="538.0" width="11.5" height="3.4" fill="#ff0000"/><rect x="228.8" y="534.0" width="3.4" height="11.5" fill="#ff0000"/>
<rect x="248.4" y="538.3" width="11.5" height="3.4" fill="#ff0000"/><rect x="252.5" y="534.2" width="3.4" height="11.5" fill="#ff0000"/>
<rect x="271.9" y="538.0" width="11.5" height="3.4" fill="#ff0000"/><rect x="276.0" y="534.0" width="3.4" height="11.5" fill="#ff0000"/>
<rect x="284.2" y="578.3" width="11.5" height="3.4" fill="#ff0000"/><rect x="288.3" y="574.2" width="3.4" height="11.5" fill="#ff0000"/>
<rect x="296.4" y="598.7" width="11.5" height="3.4" fill="#ff0000"/><rect x="300.5" y="594.6" width="3.4" height="11.5" fill="#ff0000"/>
<rect x="308.8" y="598.7" width="11.5" height="3.4" fill="#ff0000"/><rect x="312.8" y="594.6" width="3.4" height="11.5" fill="#ff0000"/>
<rect x="320.4" y="617.7" width="11.5" height="3.4" fill="#ff0000"/><rect x="324.4" y="613.6" width="3.4" height="11.5" fill="#ff0000"/>
<rect x="153.9" y="813.8" width="11.5" height="11.5" fill="#ff0000" stroke="none" stroke-width="1.2"/>
<rect x="165.6" y="654.6" width="11.5" height="11.5" fill="#ff0000" stroke="none" stroke-width="1.2"/>
<rect x="176.9" y="592.5" width="11.5" height="11.5" fill="#ff0000" stroke="none" stroke-width="1.2"/>
<rect x="189.2" y="576.9" width="11.5" height="11.5" fill="#ff0000" stroke="none" stroke-width="1.2"/>
<rect x="201.1" y="560.5" width="11.5" height="11.5" fill="#ff0000" stroke="none" stroke-width="1.2"/>
<rect x="213.1" y="545.5" width="11.5" height="11.5" fill="#ff0000" stroke="none" stroke-width="1.2"/>
<rect x="224.9" y="529.2" width="11.5" height="11.5" fill="#ff0000" stroke="none" stroke-width="1.2"/>
<rect x="231.2" y="529.2" width="11.5" height="11.5" fill="#ff0000" stroke="none" stroke-width="1.2"/>
<rect x="237.2" y="529.2" width="11.5" height="11.5" fill="#ff0000" stroke="none" stroke-width="1.2"/>
<rect x="243.2" y="529.2" width="11.5" height="11.5" fill="#ff0000" stroke="none" stroke-width="1.2"/>
<rect x="248.4" y="529.2" width="11.5" height="11.5" fill="#ff0000" stroke="none" stroke-width="1.2"/>
<rect x="254.2" y="529.2" width="11.5" height="11.5" fill="#ff0000" stroke="none" stroke-width="1.2"/>
<rect x="260.6" y="529.2" width="11.5" height="11.5" fill="#ff0000" stroke="none" stroke-width="1.2"/>
<rect x="272.9" y="545.0" width="11.5" height="11.5" fill="#ff0000" stroke="none" stroke-width="1.2"/>
<rect x="279.2" y="545.0" width="11.5" height="11.5" fill="#ff0000" stroke="none" stroke-width="1.2"/>
<rect x="285.2" y="545.0" width="11.5" height="11.5" fill="#ff0000" stroke="none" stroke-width="1.2"/>
<rect x="297.1" y="560.5" width="11.5" height="11.5" fill="#ff0000" stroke="none" stroke-width="1.2"/>
<rect x="308.8" y="545.0" width="11.5" height="11.5" fill="#ff0000" stroke="none" stroke-width="1.2"/>
<rect x="320.9" y="576.9" width="11.5" height="11.5" fill="#ff0000" stroke="none" stroke-width="1.2"/>
<rect x="333.2" y="560.5" width="11.5" height="11.5" fill="#ff0000" stroke="none" stroke-width="1.2"/>
<rect x="339.2" y="560.5" width="11.5" height="11.5" fill="#ff0000" stroke="none" stroke-width="1.2"/>
<rect x="345.4" y="560.5" width="11.5" height="11.5" fill="#ff0000" stroke="none" stroke-width="1.2"/>
<rect x="351.2" y="560.5" width="11.5" height="11.5" fill="#ff0000" stroke="none" stroke-width="1.2"/>
<rect x="356.8" y="560.5" width="11.5" height="11.5" fill="#ff0000" stroke="none" stroke-width="1.2"/>
<polygon points="171.3,729.2 177.1,735.0 171.3,740.8 165.6,735.0" fill="#ff0000" stroke="none" stroke-width="1.2"/>
<polygon points="183.0,644.0 188.8,649.7 183.0,655.5 177.2,649.7" fill="#ff0000" stroke="none" stroke-width="1.2"/>
<polygon points="194.5,593.2 200.2,599.0 194.5,604.8 188.8,599.0" fill="#ff0000" stroke="none" stroke-width="1.2"/>
<polygon points="206.8,572.1 212.6,577.9 206.8,583.6 201.1,577.9" fill="#ff0000" stroke="none" stroke-width="1.2"/>
<polygon points="218.8,550.6 224.6,556.4 218.8,562.1 213.1,556.4" fill="#ff0000" stroke="none" stroke-width="1.2"/>
<polygon points="230.7,540.5 236.4,546.2 230.7,552.0 224.9,546.2" fill="#ff0000" stroke="none" stroke-width="1.2"/>
<polygon points="242.5,540.5 248.2,546.2 242.5,552.0 236.8,546.2" fill="#ff0000" stroke="none" stroke-width="1.2"/>
<polygon points="267.5,497.6 273.2,503.3 267.5,509.1 261.8,503.3" fill="#ff0000" stroke="none" stroke-width="1.2"/>
<polygon points="280.3,497.6 286.1,503.3 280.3,509.1 274.6,503.3" fill="#ff0000" stroke="none" stroke-width="1.2"/>
<polygon points="294.0,507.8 299.8,513.5 294.0,519.2 288.2,513.5" fill="#ff0000" stroke="none" stroke-width="1.2"/>
<polygon points="307.3,507.8 313.1,513.5 307.3,519.2 301.6,513.5" fill="#ff0000" stroke="none" stroke-width="1.2"/>
<polygon points="320.6,519.0 326.4,524.8 320.6,530.5 314.9,524.8" fill="#ff0000" stroke="none" stroke-width="1.2"/>
<polygon points="334.9,540.0 340.6,545.8 334.9,551.5 329.1,545.8" fill="#ff0000" stroke="none" stroke-width="1.2"/>
<polygon points="348.2,550.6 353.9,556.4 348.2,562.1 342.4,556.4" fill="#ff0000" stroke="none" stroke-width="1.2"/>
<polygon points="360.8,550.6 366.6,556.4 360.8,562.1 355.1,556.4" fill="#ff0000" stroke="none" stroke-width="1.2"/>
<polygon points="372.7,582.4 378.4,588.1 372.7,593.9 366.9,588.1" fill="#ff0000" stroke="none" stroke-width="1.2"/>
<polygon points="384.9,582.4 390.6,588.1 384.9,593.9 379.1,588.1" fill="#ff0000" stroke="none" stroke-width="1.2"/>
<polygon points="171.3,665.1 176.2,670.0 171.3,674.9 166.4,670.0" fill="none" stroke="#ff0000" stroke-width="1.2"/>
<polygon points="194.5,622.6 199.4,627.5 194.5,632.4 189.6,627.5" fill="none" stroke="#ff0000" stroke-width="1.2"/>
<polygon points="206.3,707.9 211.2,712.8 206.3,717.7 201.4,712.8" fill="none" stroke="#ff0000" stroke-width="1.2"/>
<polygon points="217.9,686.5 222.8,691.4 217.9,696.3 213.0,691.4" fill="none" stroke="#ff0000" stroke-width="1.2"/>
<polygon points="230.5,643.8 235.4,648.7 230.5,653.6 225.6,648.7" fill="none" stroke="#ff0000" stroke-width="1.2"/>
<polygon points="241.5,622.6 246.4,627.5 241.5,632.4 236.6,627.5" fill="none" stroke="#ff0000" stroke-width="1.2"/>
<polygon points="253.6,559.3 258.5,564.2 253.6,569.1 248.7,564.2" fill="none" stroke="#ff0000" stroke-width="1.2"/>
<polygon points="265.4,539.3 270.3,544.2 265.4,549.1 260.5,544.2" fill="none" stroke="#ff0000" stroke-width="1.2"/>
<polygon points="288.9,516.8 293.8,521.7 288.9,526.6 284.0,521.7" fill="none" stroke="#ff0000" stroke-width="1.2"/>
<polygon points="301.2,516.8 306.1,521.7 301.2,526.6 296.3,521.7" fill="none" stroke="#ff0000" stroke-width="1.2"/>
<polygon points="313.4,495.4 318.3,500.3 313.4,505.2 308.5,500.3" fill="none" stroke="#ff0000" stroke-width="1.2"/>
<polygon points="324.7,516.8 329.6,521.7 324.7,526.6 319.8,521.7" fill="none" stroke="#ff0000" stroke-width="1.2"/>
<polygon points="336.9,516.8 341.8,521.7 336.9,526.6 332.0,521.7" fill="none" stroke="#ff0000" stroke-width="1.2"/>
<polygon points="348.6,516.8 353.5,521.7 348.6,526.6 343.7,521.7" fill="none" stroke="#ff0000" stroke-width="1.2"/>
<polygon points="360.4,516.8 365.3,521.7 360.4,526.6 355.5,521.7" fill="none" stroke="#ff0000" stroke-width="1.2"/>
<polygon points="372.7,516.8 377.6,521.7 372.7,526.6 367.8,521.7" fill="none" stroke="#ff0000" stroke-width="1.2"/>
<polygon points="384.5,516.8 389.4,521.7 384.5,526.6 379.6,521.7" fill="none" stroke="#ff0000" stroke-width="1.2"/>
<polygon points="396.2,516.8 401.1,521.7 396.2,526.6 391.3,521.7" fill="none" stroke="#ff0000" stroke-width="1.2"/>
<polygon points="408.4,516.8 413.3,521.7 408.4,526.6 403.5,521.7" fill="none" stroke="#ff0000" stroke-width="1.2"/>
<rect x="834.5" y="20.5" width="457.0" height="800.0" fill="none" stroke="#7a7a7a" stroke-width="1"/>
<line x1="834.5" y1="820.5" x2="845.5" y2="820.5" stroke="#7a7a7a" stroke-width="1"/>
<line x1="834.5" y1="754.5" x2="845.5" y2="754.5" stroke="#7a7a7a" stroke-width="1"/>
<line x1="834.5" y1="687.5" x2="845.5" y2="687.5" stroke="#7a7a7a" stroke-width="1"/>
<line x1="834.5" y1="620.5" x2="845.5" y2="620.5" stroke="#7a7a7a" stroke-width="1"/>
<line x1="834.5" y1="554.5" x2="845.5" y2="554.5" stroke="#7a7a7a" stroke-width="1"/>
<line x1="834.5" y1="487.5" x2="845.5" y2="487.5" stroke="#7a7a7a" stroke-width="1"/>
<line x1="834.5" y1="420.5" x2="845.5" y2="420.5" stroke="#7a7a7a" stroke-width="1"/>
<line x1="834.5" y1="354.5" x2="845.5" y2="354.5" stroke="#7a7a7a" stroke-width="1"/>
<line x1="834.5" y1="287.5" x2="845.5" y2="287.5" stroke="#7a7a7a" stroke-width="1"/>
<line x1="834.5" y1="220.5" x2="845.5" y2="220.5" stroke="#7a7a7a" stroke-width="1"/>
<line x1="834.5" y1="154.5" x2="845.5" y2="154.5" stroke="#7a7a7a" stroke-width="1"/>
<line x1="834.5" y1="87.5" x2="845.5" y2="87.5" stroke="#7a7a7a" stroke-width="1"/>
<line x1="834.5" y1="20.5" x2="845.5" y2="20.5" stroke="#7a7a7a" stroke-width="1"/>
<line x1="834.5" y1="820.5" x2="834.5" y2="809.5" stroke="#7a7a7a" stroke-width="1"/>
<line x1="863.0625" y1="820.5" x2="863.0625" y2="809.5" stroke="#7a7a7a" stroke-width="1"/>
<line x1="891.625" y1="820.5" x2="891.625" y2="809.5" stroke="#7a7a7a" stroke-width="1"/>
<line x1="920.1875" y1="820.5" x2="920.1875" y2="809.5" stroke="#7a7a7a" stroke-width="1"/>
<line x1="948.75" y1="820.5" x2="948.75" y2="809.5" stroke="#7a7a7a" stroke-width="1"/>
<line x1="977.3125" y1="820.5" x2="977.3125" y2="809.5" stroke="#7a7a7a" stroke-width="1"/>
<line x1="1005.875" y1="820.5" x2="1005.875" y2="809.5" stroke="#7a7a7a" stroke-width="1"/>
<line x1="1034.4375" y1="820.5" x2="1034.4375" y2="809.5" stroke="#7a7a7a" stroke-width="1"/>
<line x1="1063.0" y1="820.5" x2="1063.0" y2="809.5" stroke="#7a7a7a" stroke-width="1"/>
<line x1="1091.5625" y1="820.5" x2="1091.5625" y2="809.5" stroke="#7a7a7a" stroke-width="1"/>
<line x1="1120.125" y1="820.5" x2="1120.125" y2="809.5" stroke="#7a7a7a" stroke-width="1"/>
<line x1="1148.6875" y1="820.5" x2="1148.6875" y2="809.5" stroke="#7a7a7a" stroke-width="1"/>
<line x1="1177.25" y1="820.5" x2="1177.25" y2="809.5" stroke="#7a7a7a" stroke-width="1"/>
<line x1="1205.8125" y1="820.5" x2="1205.8125" y2="809.5" stroke="#7a7a7a" stroke-width="1"/>
<line x1="1234.375" y1="820.5" x2="1234.375" y2="809.5" stroke="#7a7a7a" stroke-width="1"/>
<line x1="1262.9375" y1="820.5" x2="1262.9375" y2="809.5" stroke="#7a7a7a" stroke-width="1"/>
<line x1="1291.5" y1="820.5" x2="1291.5" y2="809.5" stroke="#7a7a7a" stroke-width="1"/>
<text x="822.5" y="831.0" font-size="31.5" text-anchor="end" >0</text>
<text x="822.5" y="764.3" font-size="31.5" text-anchor="end" >0.005</text>
<text x="822.5" y="697.7" font-size="31.5" text-anchor="end" >0.01</text>
<text x="822.5" y="631.0" font-size="31.5" text-anchor="end" >0.015</text>
<text x="822.5" y="564.3" font-size="31.5" text-anchor="end" >0.02</text>
<text x="822.5" y="497.7" font-size="31.5" text-anchor="end" >0.025</text>
<text x="822.5" y="431.0" font-size="31.5" text-anchor="end" >0.03</text>
<text x="822.5" y="364.3" font-size="31.5" text-anchor="end" >0.035</text>
<text x="822.5" y="297.7" font-size="31.5" text-anchor="end" >0.04</text>
<text x="822.5" y="231.0" font-size="31.5" text-anchor="end" >0.045</text>
<text x="822.5" y="164.3" font-size="31.5" text-anchor="end" >0.05</text>
<text x="822.5" y="97.7" font-size="31.5" text-anchor="end" >0.055</text>
<text x="822.5" y="31.0" font-size="31.5" text-anchor="end" >0.06</text>
<text x="834.5" y="859.5" font-size="31.5" text-anchor="middle" >0</text>
<text x="891.6" y="859.5" font-size="31.5" text-anchor="middle" >0.2</text>
<text x="948.8" y="859.5" font-size="31.5" text-anchor="middle" >0.4</text>
<text x="1005.9" y="859.5" font-size="31.5" text-anchor="middle" >0.6</text>
<text x="1063.0" y="859.5" font-size="31.5" text-anchor="middle" >0.8</text>
<text x="1120.1" y="859.5" font-size="31.5" text-anchor="middle" >1</text>
<text x="1177.2" y="859.5" font-size="31.5" text-anchor="middle" >1.2</text>
<text x="1234.4" y="859.5" font-size="31.5" text-anchor="middle" >1.4</text>
<text x="1291.5" y="859.5" font-size="31.5" text-anchor="middle" >1.6</text>
<text x="924.7" y="897.3" font-size="32.4">Deflection, <tspan font-size="32.5">δ</tspan><tspan font-size="21" dy="8.2">h</tspan><tspan dy="-8.2"> (mm)</tspan></text>
<text transform="translate(722.0,581.5) rotate(-90)" font-size="31.7">Lateral load, P<tspan font-size="21" dy="9">H</tspan><tspan dy="-9"> (kN/EA)</tspan></text>
<text x="872.9" y="962.6" font-size="36" style="font-family:'Liberation Sans', sans-serif" >(</text>
<text x="882.7" y="965.6" font-size="34" style="font-family:'Liberation Sans', sans-serif" >b</text>
<text x="900.8" y="962.6" font-size="36" style="font-family:'Liberation Sans', sans-serif" >)</text>
<text x="926.7" y="965.6" font-size="34" style="font-family:'Liberation Sans', sans-serif" >L/D=40,</text>
<text x="1059.9" y="965.6" font-size="34" style="font-family:'Liberation Sans', sans-serif" textLength="76.5" lengthAdjust="spacingAndGlyphs">s=6D</text>
<text x="856.3" y="45.3" font-size="24.5" textLength="287.1" lengthAdjust="spacingAndGlyphs">In case of L/D=40 and s=6D</text>
<rect x="856.3" y="47.3" width="288.1" height="1.5" fill="#000"/>
<text x="856.3" y="80.5" font-size="23.6" text-anchor="start" >Numerical analysis</text>
<text x="856.3" y="109.0" font-size="23.6" text-anchor="start" >(This study)</text>
<text x="1077.8" y="80.5" font-size="23.6" text-anchor="start" >Model test</text>
<text x="1077.8" y="109.0" font-size="23.6" text-anchor="start" >(Hwang et al.,2020)</text>
<line x1="853.0" y1="133.6" x2="953.2" y2="133.6" stroke="#666" stroke-width="1"/>
<rect x="893.8" y="131.5" width="19.0" height="4.2" fill="#000"/><rect x="901.2" y="124.1" width="4.2" height="19.0" fill="#000"/>
<text x="972.8" y="142.2" font-size="24.5" text-anchor="start" >θ=0°</text>
<line x1="853.0" y1="167.1" x2="953.2" y2="167.1" stroke="#666" stroke-width="1"/>
<polygon points="903.3,158.6 911.9,167.1 903.3,175.7 894.7,167.1" fill="none" stroke="#000" stroke-width="1.3"/>
<text x="972.8" y="175.7" font-size="24.5" text-anchor="start" >θ=+15°</text>
<line x1="853.0" y1="200.7" x2="953.2" y2="200.7" stroke="#666" stroke-width="1"/>
<rect x="894.4" y="191.8" width="17.7" height="17.7" fill="none" stroke="#000" stroke-width="1.3"/>
<text x="972.8" y="209.3" font-size="24.5" text-anchor="start" >θ=+30°</text>
<line x1="853.0" y1="234.2" x2="953.2" y2="234.2" stroke="#666" stroke-width="1"/>
<polygon points="903.3,227.4 912.0,240.9 894.6,240.9" fill="none" stroke="#000" stroke-width="1.3"/>
<text x="972.8" y="242.8" font-size="24.5" text-anchor="start" >θ=+45°</text>
<line x1="853.0" y1="267.8" x2="953.2" y2="267.8" stroke="#666" stroke-width="1"/>
<polygon points="903.3,274.7 912.0,261.2 894.6,261.2" fill="none" stroke="#000" stroke-width="1.3"/>
<text x="972.8" y="276.4" font-size="24.5" text-anchor="start" >θ=+60°</text>
<line x1="853.0" y1="301.4" x2="953.2" y2="301.4" stroke="#666" stroke-width="1"/>
<polygon points="903.3,291.9 912.8,301.4 903.3,310.9 893.8,301.4" fill="#000" stroke="none" stroke-width="1.3"/>
<text x="972.8" y="310.0" font-size="24.5" text-anchor="start" >θ=-15°</text>
<line x1="853.0" y1="334.9" x2="953.2" y2="334.9" stroke="#666" stroke-width="1"/>
<rect x="893.8" y="325.4" width="19.0" height="19.0" fill="#000" stroke="none" stroke-width="1.3"/>
<text x="972.8" y="343.5" font-size="24.5" text-anchor="start" >θ=-30°</text>
<line x1="853.0" y1="368.4" x2="953.2" y2="368.4" stroke="#666" stroke-width="1"/>
<polygon points="903.3,360.5 912.8,375.7 893.8,375.7" fill="#000" stroke="none" stroke-width="1.3"/>
<text x="972.8" y="377.0" font-size="24.5" text-anchor="start" >θ=-45°</text>
<line x1="853.0" y1="402.0" x2="953.2" y2="402.0" stroke="#666" stroke-width="1"/>
<polygon points="903.3,409.9 912.8,394.7 893.8,394.7" fill="#000" stroke="none" stroke-width="1.3"/>
<text x="972.8" y="410.6" font-size="24.5" text-anchor="start" >θ=-60°</text>
<line x1="1061.9" y1="134.4" x2="1072.9" y2="134.4" stroke="#ff7070" stroke-width="1"/>
<line x1="1085.1" y1="134.4" x2="1095.9" y2="134.4" stroke="#ff7070" stroke-width="1"/>
<line x1="1130.9" y1="134.4" x2="1141.9" y2="134.4" stroke="#ff7070" stroke-width="1"/>
<line x1="1153.4" y1="134.4" x2="1163.6" y2="134.4" stroke="#ff7070" stroke-width="1"/>
<rect x="1108.3" y="132.3" width="19.0" height="4.2" fill="#ff0000"/><rect x="1115.7" y="124.9" width="4.2" height="19.0" fill="#ff0000"/>
<text x="1195.5" y="143.0" font-size="24.5" text-anchor="start" >θ=0°</text>
<line x1="1061.9" y1="169.7" x2="1072.9" y2="169.7" stroke="#ff7070" stroke-width="1"/>
<line x1="1085.1" y1="169.7" x2="1095.9" y2="169.7" stroke="#ff7070" stroke-width="1"/>
<line x1="1130.9" y1="169.7" x2="1141.9" y2="169.7" stroke="#ff7070" stroke-width="1"/>
<line x1="1153.4" y1="169.7" x2="1163.6" y2="169.7" stroke="#ff7070" stroke-width="1"/>
<polygon points="1117.8,161.1 1126.4,169.7 1117.8,178.2 1109.2,169.7" fill="none" stroke="#ff0000" stroke-width="1.3"/>
<line x1="1111.8" y1="169.7" x2="1123.8" y2="169.7" stroke="#ff7070" stroke-width="1"/>
<text x="1195.5" y="178.2" font-size="24.5" text-anchor="start" >θ=+15°</text>
<line x1="1061.9" y1="204.9" x2="1072.9" y2="204.9" stroke="#ff7070" stroke-width="1"/>
<line x1="1085.1" y1="204.9" x2="1095.9" y2="204.9" stroke="#ff7070" stroke-width="1"/>
<line x1="1130.9" y1="204.9" x2="1141.9" y2="204.9" stroke="#ff7070" stroke-width="1"/>
<line x1="1153.4" y1="204.9" x2="1163.6" y2="204.9" stroke="#ff7070" stroke-width="1"/>
<rect x="1109.0" y="196.1" width="17.7" height="17.7" fill="none" stroke="#ff0000" stroke-width="1.3"/>
<line x1="1111.8" y1="204.9" x2="1123.8" y2="204.9" stroke="#ff7070" stroke-width="1"/>
<text x="1195.5" y="213.5" font-size="24.5" text-anchor="start" >θ=+30°</text>
<line x1="1061.9" y1="240.2" x2="1072.9" y2="240.2" stroke="#ff7070" stroke-width="1"/>
<line x1="1085.1" y1="240.2" x2="1095.9" y2="240.2" stroke="#ff7070" stroke-width="1"/>
<line x1="1130.9" y1="240.2" x2="1141.9" y2="240.2" stroke="#ff7070" stroke-width="1"/>
<line x1="1153.4" y1="240.2" x2="1163.6" y2="240.2" stroke="#ff7070" stroke-width="1"/>
<polygon points="1117.8,230.7 1127.3,240.2 1117.8,249.7 1108.3,240.2" fill="#ff0000" stroke="none" stroke-width="1.3"/>
<text x="1195.5" y="248.8" font-size="24.5" text-anchor="start" >θ=-15°</text>
<line x1="1061.9" y1="275.4" x2="1072.9" y2="275.4" stroke="#ff7070" stroke-width="1"/>
<line x1="1085.1" y1="275.4" x2="1095.9" y2="275.4" stroke="#ff7070" stroke-width="1"/>
<line x1="1130.9" y1="275.4" x2="1141.9" y2="275.4" stroke="#ff7070" stroke-width="1"/>
<line x1="1153.4" y1="275.4" x2="1163.6" y2="275.4" stroke="#ff7070" stroke-width="1"/>
<rect x="1108.3" y="265.9" width="19.0" height="19.0" fill="#ff0000" stroke="none" stroke-width="1.3"/>
<text x="1195.5" y="284.0" font-size="24.5" text-anchor="start" >θ=-30°</text>
<line x1="977.5" y1="528" x2="977.5" y2="820.5" stroke="#5a5a5a" stroke-width="1" stroke-dasharray="4.8,2,0.7,2"/>
<line x1="984.0" y1="780.3" x2="1023.2" y2="780.3" stroke="#555" stroke-width="1"/>
<polygon points="978.0,780.3 986.0,777.5 986.0,783.0999999999999" fill="#000"/>
<text x="1030.5" y="787.8" font-size="24.8">δ<tspan font-size="17" dy="3.5">h</tspan><tspan dy="-3.5">/D=10%</tspan></text>
<polyline points="862.0,694.3 872.1,694.9 880.8,694.8 890.9,651.0 901.1,654.9 909.8,652.4 920.0,612.7 930.2,616.5 938.9,614.5 949.1,599.0 959.3,600.9 968.0,600.7 978.2,569.8 988.4,573.1 997.1,570.8 1007.3,558.2 1017.5,559.9 1026.3,559.2 1036.5,552.0 1047.0,559.6 1056.0,558.7 1066.5,558.2" fill="none" stroke="#ff5252" stroke-width="0.8" stroke-dasharray="8,5" stroke-dashoffset="3.5"/>
<polyline points="868.8,678.8 880.8,681.7 891.1,679.4 903.1,622.0 915.5,624.2 926.0,623.1 938.4,594.4 951.3,594.5 962.3,594.4 975.2,588.2 987.5,590.7 998.1,589.6 1010.4,583.6 1023.3,589.4 1034.3,589.3 1047.2,589.1 1059.5,603.7 1070.1,603.3 1082.4,600.5" fill="none" stroke="#ff5252" stroke-width="0.8" stroke-dasharray="8,5" stroke-dashoffset="1.2"/>
<polyline points="834.2,820.5 841.6,821.6 847.9,820.7 855.2,735.1 860.7,738.2 865.3,736.3 870.8,689.5 877.9,690.0 884.0,689.8 891.1,659.4 898.0,663.0 903.9,662.2 910.8,639.7 917.2,640.7 922.8,640.0 929.2,632.0 936.7,635.7 943.2,634.2 950.7,612.7 957.7,615.5 963.6,613.4 970.6,600.5 977.6,600.7 983.5,600.7 990.5,592.2 997.5,593.9 1003.4,592.6 1010.4,589.8 1010.4,599.8 1010.4,598.4 1010.4,596.0 1017.6,599.2 1023.8,596.8 1031.0,585.8" fill="none" stroke="#ff5252" stroke-width="0.8" stroke-dasharray="8,5" stroke-dashoffset="9.4"/>
<polyline points="857.2,744.8 865.0,745.1 871.7,745.0 879.5,694.3 887.7,696.1 894.6,695.1 902.8,654.6 909.9,656.8 916.0,656.5 923.1,631.1 940.2,632.2 955.0,631.4 972.1,594.4 979.1,596.5 985.0,595.2 992.0,574.4 1000.0,574.8 1007.0,574.5 1015.0,563.7 1023.0,563.9 1030.0,563.8 1038.0,561.6" fill="none" stroke="#ff5252" stroke-width="0.8" stroke-dasharray="8,5" stroke-dashoffset="3.4"/>
<polyline points="865.9,671.0 876.8,672.2 886.1,671.9 897.0,643.4 919.5,644.6 938.9,644.0 961.4,597.4 973.7,598.1 984.3,597.7 996.6,579.6 1008.4,626.6 1018.5,626.5 1030.3,626.5" fill="none" stroke="#ff5252" stroke-width="0.8" stroke-dasharray="8,5" stroke-dashoffset="0.2"/>
<polyline points="836.0,790.0 839.0,760.0 844.0,735.0 852.0,712.0 864.0,690.0 878.0,672.0 895.0,652.0 912.0,630.0" fill="none" stroke="#ff5252" stroke-width="0.8" stroke-dasharray="7,6" stroke-dashoffset="8.1"/>
<polyline points="1082.4,600.5 1092.0,606.0 1100.0,614.0 1110.0,620.0" fill="none" stroke="#ff5252" stroke-width="0.8" stroke-dasharray="7,6" stroke-dashoffset="6.1"/>
<polyline points="1030.3,626.5 1028.0,640.0 1032.0,652.0 1037.0,662.0" fill="none" stroke="#ff5252" stroke-width="0.8" stroke-dasharray="7,6" stroke-dashoffset="2.1"/>
<polyline points="1047.2,589.1 1055.0,593.0 1066.0,598.0 1075.0,599.0" fill="none" stroke="#ff5252" stroke-width="0.8" stroke-dasharray="7,6" stroke-dashoffset="5.2"/>
<polyline points="1038.0,561.6 1046.0,553.0 1054.0,556.0 1062.0,554.0" fill="none" stroke="#ff5252" stroke-width="0.8" stroke-dasharray="7,6" stroke-dashoffset="10.3"/>
<line x1="836.8" y1="745.0" x2="838.9" y2="790.0" stroke="#ff5252" stroke-width="0.8" stroke-dasharray="7,6" stroke-dashoffset="6.5"/>
<line x1="844.0" y1="738.2" x2="844.0" y2="785.5" stroke="#ff5252" stroke-width="0.8" stroke-dasharray="7,6" stroke-dashoffset="7.6"/>
<line x1="850.0" y1="730.6" x2="849.7" y2="780.4" stroke="#ff5252" stroke-width="0.8" stroke-dasharray="7,6" stroke-dashoffset="12.5"/>
<line x1="854.6" y1="723.0" x2="854.6" y2="775.3" stroke="#ff5252" stroke-width="0.8" stroke-dasharray="7,6" stroke-dashoffset="5.2"/>
<line x1="856.7" y1="718.0" x2="855.1" y2="772.0" stroke="#ff5252" stroke-width="0.8" stroke-dasharray="7,6" stroke-dashoffset="11.1"/>
<line x1="861.1" y1="712.8" x2="859.5" y2="765.6" stroke="#ff5252" stroke-width="0.8" stroke-dasharray="7,6" stroke-dashoffset="12.6"/>
<line x1="868.7" y1="706.4" x2="868.1" y2="752.9" stroke="#ff5252" stroke-width="0.8" stroke-dasharray="7,6" stroke-dashoffset="3.6"/>
<line x1="872.5" y1="701.9" x2="871.3" y2="743.8" stroke="#ff5252" stroke-width="0.8" stroke-dasharray="7,6" stroke-dashoffset="6.7"/>
<line x1="878.3" y1="697.4" x2="881.1" y2="734.8" stroke="#ff5252" stroke-width="0.8" stroke-dasharray="7,6" stroke-dashoffset="8.2"/>
<line x1="882.5" y1="693.0" x2="882.1" y2="726.0" stroke="#ff5252" stroke-width="0.8" stroke-dasharray="7,6" stroke-dashoffset="5.3"/>
<polyline points="835.0,820.5 837.8,791.0 844.6,756.4 870.8,723.8 965.8,692.0 1071.6,659.4" fill="none" stroke="#606060" stroke-width="0.9"/>
<polyline points="835.0,820.5 838.0,793.0 853.3,762.3 879.5,733.2 928.0,703.1 1046.4,674.0" fill="none" stroke="#606060" stroke-width="0.9"/>
<polyline points="835.0,820.5 837.8,792.0 840.7,767.1 866.0,738.0 897.9,713.7 1002.3,686.6" fill="none" stroke="#606060" stroke-width="0.9"/>
<polyline points="835.0,820.5 837.8,790.0 848.0,760.0 864.9,733.2 908.6,704.0 979.4,674.9" fill="none" stroke="#606060" stroke-width="0.9"/>
<polyline points="835.0,820.5 837.8,792.0 848.0,762.0 866.9,740.9 908.6,712.8 977.5,686.6" fill="none" stroke="#606060" stroke-width="0.9"/>
<polyline points="835.0,820.5 837.8,792.0 848.0,762.0 864.9,737.0 904.7,708.9 984.3,681.7" fill="none" stroke="#606060" stroke-width="0.9"/>
<polyline points="835.0,820.5 837.8,794.0 850.0,765.0 866.9,745.8 918.3,723.4 1043.5,700.2" fill="none" stroke="#606060" stroke-width="0.9"/>
<polyline points="835.0,820.5 838.0,797.0 850.0,770.0 861.0,760.3 896.0,740.0 996.9,720.5" fill="none" stroke="#606060" stroke-width="0.9"/>
<polyline points="835.0,820.5 838.0,800.0 844.6,777.8 870.8,756.4 915.4,734.1 1045.4,712.8" fill="none" stroke="#606060" stroke-width="0.9"/>
<polygon points="837.8,785.2 843.5,791.0 837.8,796.8 832.0,791.0" fill="#000" stroke="none" stroke-width="1.2"/>
<polygon points="844.6,750.6 850.4,756.4 844.6,762.1 838.9,756.4" fill="#000" stroke="none" stroke-width="1.2"/>
<polygon points="870.8,718.0 876.5,723.8 870.8,729.5 865.0,723.8" fill="#000" stroke="none" stroke-width="1.2"/>
<polygon points="965.8,686.2 971.5,692.0 965.8,697.8 960.0,692.0" fill="#000" stroke="none" stroke-width="1.2"/>
<polygon points="1071.6,653.6 1077.3,659.4 1071.6,665.1 1065.8,659.4" fill="#000" stroke="none" stroke-width="1.2"/>
<rect x="832.2" y="787.2" width="11.5" height="11.5" fill="#000" stroke="none" stroke-width="1.2"/>
<rect x="847.5" y="756.5" width="11.5" height="11.5" fill="#000" stroke="none" stroke-width="1.2"/>
<rect x="873.8" y="727.5" width="11.5" height="11.5" fill="#000" stroke="none" stroke-width="1.2"/>
<rect x="922.2" y="697.4" width="11.5" height="11.5" fill="#000" stroke="none" stroke-width="1.2"/>
<rect x="1040.7" y="668.2" width="11.5" height="11.5" fill="#000" stroke="none" stroke-width="1.2"/>
<rect x="832.0" y="790.3" width="11.5" height="3.4" fill="#000"/><rect x="836.1" y="786.2" width="3.4" height="11.5" fill="#000"/>
<rect x="835.0" y="765.4" width="11.5" height="3.4" fill="#000"/><rect x="839.0" y="761.4" width="3.4" height="11.5" fill="#000"/>
<rect x="860.2" y="736.3" width="11.5" height="3.4" fill="#000"/><rect x="864.3" y="732.2" width="3.4" height="11.5" fill="#000"/>
<rect x="892.1" y="712.0" width="11.5" height="3.4" fill="#000"/><rect x="896.2" y="708.0" width="3.4" height="11.5" fill="#000"/>
<rect x="996.5" y="684.9" width="11.5" height="3.4" fill="#000"/><rect x="1000.6" y="680.9" width="3.4" height="11.5" fill="#000"/>
<rect x="832.6" y="784.9" width="10.3" height="10.3" fill="none" stroke="#000" stroke-width="1.2"/>
<rect x="842.9" y="754.9" width="10.3" height="10.3" fill="none" stroke="#000" stroke-width="1.2"/>
<rect x="859.8" y="728.1" width="10.3" height="10.3" fill="none" stroke="#000" stroke-width="1.2"/>
<rect x="903.5" y="698.9" width="10.3" height="10.3" fill="none" stroke="#000" stroke-width="1.2"/>
<rect x="974.2" y="669.8" width="10.3" height="10.3" fill="none" stroke="#000" stroke-width="1.2"/>
<polygon points="837.8,787.1 842.7,792.0 837.8,796.9 832.9,792.0" fill="none" stroke="#000" stroke-width="1.2"/>
<polygon points="848.0,757.1 852.9,762.0 848.0,766.9 843.1,762.0" fill="none" stroke="#000" stroke-width="1.2"/>
<polygon points="866.9,736.0 871.8,740.9 866.9,745.8 862.0,740.9" fill="none" stroke="#000" stroke-width="1.2"/>
<polygon points="908.6,707.9 913.5,712.8 908.6,717.7 903.7,712.8" fill="none" stroke="#000" stroke-width="1.2"/>
<polygon points="977.5,681.7 982.4,686.6 977.5,691.5 972.6,686.6" fill="none" stroke="#000" stroke-width="1.2"/>
<polygon points="837.8,788.2 842.8,795.8 832.8,795.8" fill="none" stroke="#000" stroke-width="1.2"/>
<polygon points="848.0,758.2 853.0,765.8 843.0,765.8" fill="none" stroke="#000" stroke-width="1.2"/>
<polygon points="864.9,733.2 869.9,740.8 859.9,740.8" fill="none" stroke="#000" stroke-width="1.2"/>
<polygon points="904.7,705.1 909.7,712.7 899.7,712.7" fill="none" stroke="#000" stroke-width="1.2"/>
<polygon points="984.3,677.9 989.3,685.5 979.3,685.5" fill="none" stroke="#000" stroke-width="1.2"/>
<polygon points="837.8,797.8 842.8,790.2 832.8,790.2" fill="none" stroke="#000" stroke-width="1.2"/>
<polygon points="850.0,768.8 855.0,761.2 845.0,761.2" fill="none" stroke="#000" stroke-width="1.2"/>
<polygon points="866.9,749.6 871.9,742.0 861.9,742.0" fill="none" stroke="#000" stroke-width="1.2"/>
<polygon points="918.3,727.2 923.3,719.6 913.3,719.6" fill="none" stroke="#000" stroke-width="1.2"/>
<polygon points="1043.5,704.0 1048.5,696.4 1038.5,696.4" fill="none" stroke="#000" stroke-width="1.2"/>
<polygon points="838.0,801.8 843.8,792.6 832.2,792.6" fill="#000" stroke="none" stroke-width="1.2"/>
<polygon points="850.0,774.8 855.8,765.6 844.2,765.6" fill="#000" stroke="none" stroke-width="1.2"/>
<polygon points="861.0,765.1 866.8,755.9 855.2,755.9" fill="#000" stroke="none" stroke-width="1.2"/>
<polygon points="896.0,744.8 901.8,735.6 890.2,735.6" fill="#000" stroke="none" stroke-width="1.2"/>
<polygon points="996.9,725.3 1002.6,716.1 991.1,716.1" fill="#000" stroke="none" stroke-width="1.2"/>
<polygon points="838.0,795.2 843.8,804.4 832.2,804.4" fill="#000" stroke="none" stroke-width="1.2"/>
<polygon points="844.6,773.0 850.4,782.2 838.9,782.2" fill="#000" stroke="none" stroke-width="1.2"/>
<polygon points="870.8,751.6 876.5,760.8 865.0,760.8" fill="#000" stroke="none" stroke-width="1.2"/>
<polygon points="915.4,729.3 921.1,738.5 909.6,738.5" fill="#000" stroke="none" stroke-width="1.2"/>
<polygon points="1045.4,708.0 1051.2,717.2 1039.7,717.2" fill="#000" stroke="none" stroke-width="1.2"/>
<rect x="856.9" y="689.1" width="10.3" height="10.3" fill="none" stroke="#ff0000" stroke-width="1.2"/>
<rect x="885.8" y="645.9" width="10.3" height="10.3" fill="none" stroke="#ff0000" stroke-width="1.2"/>
<rect x="914.9" y="607.6" width="10.3" height="10.3" fill="none" stroke="#ff0000" stroke-width="1.2"/>
<rect x="944.0" y="593.9" width="10.3" height="10.3" fill="none" stroke="#ff0000" stroke-width="1.2"/>
<rect x="973.1" y="564.6" width="10.3" height="10.3" fill="none" stroke="#ff0000" stroke-width="1.2"/>
<rect x="1002.1" y="553.1" width="10.3" height="10.3" fill="none" stroke="#ff0000" stroke-width="1.2"/>
<rect x="1031.3" y="546.9" width="10.3" height="10.3" fill="none" stroke="#ff0000" stroke-width="1.2"/>
<rect x="1061.3" y="553.1" width="10.3" height="10.3" fill="none" stroke="#ff0000" stroke-width="1.2"/>
<rect x="863.0" y="677.1" width="11.5" height="3.4" fill="#ff0000"/><rect x="867.1" y="673.0" width="3.4" height="11.5" fill="#ff0000"/>
<rect x="897.4" y="620.3" width="11.5" height="3.4" fill="#ff0000"/><rect x="901.4" y="616.2" width="3.4" height="11.5" fill="#ff0000"/>
<rect x="932.6" y="592.7" width="11.5" height="3.4" fill="#ff0000"/><rect x="936.7" y="588.6" width="3.4" height="11.5" fill="#ff0000"/>
<rect x="969.5" y="586.5" width="11.5" height="3.4" fill="#ff0000"/><rect x="973.5" y="582.5" width="3.4" height="11.5" fill="#ff0000"/>
<rect x="1004.6" y="581.9" width="11.5" height="3.4" fill="#ff0000"/><rect x="1008.7" y="577.9" width="3.4" height="11.5" fill="#ff0000"/>
<rect x="1041.5" y="587.4" width="11.5" height="3.4" fill="#ff0000"/><rect x="1045.5" y="583.4" width="3.4" height="11.5" fill="#ff0000"/>
<rect x="1076.7" y="598.8" width="11.5" height="3.4" fill="#ff0000"/><rect x="1080.7" y="594.8" width="3.4" height="11.5" fill="#ff0000"/>
<rect x="828.5" y="814.8" width="11.5" height="11.5" fill="#ff0000" stroke="none" stroke-width="1.2"/>
<rect x="849.5" y="729.4" width="11.5" height="11.5" fill="#ff0000" stroke="none" stroke-width="1.2"/>
<rect x="865.0" y="683.8" width="11.5" height="11.5" fill="#ff0000" stroke="none" stroke-width="1.2"/>
<rect x="885.4" y="653.6" width="11.5" height="11.5" fill="#ff0000" stroke="none" stroke-width="1.2"/>
<rect x="905.0" y="634.0" width="11.5" height="11.5" fill="#ff0000" stroke="none" stroke-width="1.2"/>
<rect x="923.5" y="626.2" width="11.5" height="11.5" fill="#ff0000" stroke="none" stroke-width="1.2"/>
<rect x="945.0" y="607.0" width="11.5" height="11.5" fill="#ff0000" stroke="none" stroke-width="1.2"/>
<rect x="964.9" y="594.8" width="11.5" height="11.5" fill="#ff0000" stroke="none" stroke-width="1.2"/>
<rect x="984.8" y="586.5" width="11.5" height="11.5" fill="#ff0000" stroke="none" stroke-width="1.2"/>
<rect x="1004.6" y="584.0" width="11.5" height="11.5" fill="#ff0000" stroke="none" stroke-width="1.2"/>
<rect x="1004.6" y="590.2" width="11.5" height="11.5" fill="#ff0000" stroke="none" stroke-width="1.2"/>
<rect x="1025.2" y="580.0" width="11.5" height="11.5" fill="#ff0000" stroke="none" stroke-width="1.2"/>
<polygon points="857.2,739.0 863.0,744.8 857.2,750.5 851.5,744.8" fill="#ff0000" stroke="none" stroke-width="1.2"/>
<polygon points="879.5,688.5 885.2,694.3 879.5,700.0 873.8,694.3" fill="#ff0000" stroke="none" stroke-width="1.2"/>
<polygon points="902.8,648.9 908.5,654.6 902.8,660.4 897.0,654.6" fill="#ff0000" stroke="none" stroke-width="1.2"/>
<polygon points="923.1,625.4 928.9,631.1 923.1,636.9 917.4,631.1" fill="#ff0000" stroke="none" stroke-width="1.2"/>
<polygon points="972.1,588.6 977.9,594.4 972.1,600.1 966.4,594.4" fill="#ff0000" stroke="none" stroke-width="1.2"/>
<polygon points="992.0,568.6 997.8,574.4 992.0,580.1 986.2,574.4" fill="#ff0000" stroke="none" stroke-width="1.2"/>
<polygon points="1015.0,558.0 1020.8,563.7 1015.0,569.5 1009.2,563.7" fill="#ff0000" stroke="none" stroke-width="1.2"/>
<polygon points="1038.0,555.9 1043.8,561.6 1038.0,567.4 1032.2,561.6" fill="#ff0000" stroke="none" stroke-width="1.2"/>
<polygon points="865.9,666.1 870.8,671.0 865.9,675.9 861.0,671.0" fill="none" stroke="#ff0000" stroke-width="1.2"/>
<polygon points="897.0,638.5 901.9,643.4 897.0,648.3 892.1,643.4" fill="none" stroke="#ff0000" stroke-width="1.2"/>
<polygon points="961.4,592.5 966.3,597.4 961.4,602.3 956.5,597.4" fill="none" stroke="#ff0000" stroke-width="1.2"/>
<polygon points="996.6,574.7 1001.5,579.6 996.6,584.5 991.7,579.6" fill="none" stroke="#ff0000" stroke-width="1.2"/>
<polygon points="1030.3,621.6 1035.2,626.5 1030.3,631.4 1025.4,626.5" fill="none" stroke="#ff0000" stroke-width="1.2"/>
<rect x="1507.5" y="20.5" width="458.0" height="800.0" fill="none" stroke="#7a7a7a" stroke-width="1"/>
<line x1="1507.5" y1="820.5" x2="1518.5" y2="820.5" stroke="#7a7a7a" stroke-width="1"/>
<line x1="1507.5" y1="754.5" x2="1518.5" y2="754.5" stroke="#7a7a7a" stroke-width="1"/>
<line x1="1507.5" y1="687.5" x2="1518.5" y2="687.5" stroke="#7a7a7a" stroke-width="1"/>
<line x1="1507.5" y1="620.5" x2="1518.5" y2="620.5" stroke="#7a7a7a" stroke-width="1"/>
<line x1="1507.5" y1="554.5" x2="1518.5" y2="554.5" stroke="#7a7a7a" stroke-width="1"/>
<line x1="1507.5" y1="487.5" x2="1518.5" y2="487.5" stroke="#7a7a7a" stroke-width="1"/>
<line x1="1507.5" y1="420.5" x2="1518.5" y2="420.5" stroke="#7a7a7a" stroke-width="1"/>
<line x1="1507.5" y1="354.5" x2="1518.5" y2="354.5" stroke="#7a7a7a" stroke-width="1"/>
<line x1="1507.5" y1="287.5" x2="1518.5" y2="287.5" stroke="#7a7a7a" stroke-width="1"/>
<line x1="1507.5" y1="220.5" x2="1518.5" y2="220.5" stroke="#7a7a7a" stroke-width="1"/>
<line x1="1507.5" y1="154.5" x2="1518.5" y2="154.5" stroke="#7a7a7a" stroke-width="1"/>
<line x1="1507.5" y1="87.5" x2="1518.5" y2="87.5" stroke="#7a7a7a" stroke-width="1"/>
<line x1="1507.5" y1="20.5" x2="1518.5" y2="20.5" stroke="#7a7a7a" stroke-width="1"/>
<line x1="1507.5" y1="820.5" x2="1507.5" y2="809.5" stroke="#7a7a7a" stroke-width="1"/>
<line x1="1536.125" y1="820.5" x2="1536.125" y2="809.5" stroke="#7a7a7a" stroke-width="1"/>
<line x1="1564.75" y1="820.5" x2="1564.75" y2="809.5" stroke="#7a7a7a" stroke-width="1"/>
<line x1="1593.375" y1="820.5" x2="1593.375" y2="809.5" stroke="#7a7a7a" stroke-width="1"/>
<line x1="1622.0" y1="820.5" x2="1622.0" y2="809.5" stroke="#7a7a7a" stroke-width="1"/>
<line x1="1650.625" y1="820.5" x2="1650.625" y2="809.5" stroke="#7a7a7a" stroke-width="1"/>
<line x1="1679.25" y1="820.5" x2="1679.25" y2="809.5" stroke="#7a7a7a" stroke-width="1"/>
<line x1="1707.875" y1="820.5" x2="1707.875" y2="809.5" stroke="#7a7a7a" stroke-width="1"/>
<line x1="1736.5" y1="820.5" x2="1736.5" y2="809.5" stroke="#7a7a7a" stroke-width="1"/>
<line x1="1765.125" y1="820.5" x2="1765.125" y2="809.5" stroke="#7a7a7a" stroke-width="1"/>
<line x1="1793.75" y1="820.5" x2="1793.75" y2="809.5" stroke="#7a7a7a" stroke-width="1"/>
<line x1="1822.375" y1="820.5" x2="1822.375" y2="809.5" stroke="#7a7a7a" stroke-width="1"/>
<line x1="1851.0" y1="820.5" x2="1851.0" y2="809.5" stroke="#7a7a7a" stroke-width="1"/>
<line x1="1879.625" y1="820.5" x2="1879.625" y2="809.5" stroke="#7a7a7a" stroke-width="1"/>
<line x1="1908.25" y1="820.5" x2="1908.25" y2="809.5" stroke="#7a7a7a" stroke-width="1"/>
<line x1="1936.875" y1="820.5" x2="1936.875" y2="809.5" stroke="#7a7a7a" stroke-width="1"/>
<line x1="1965.5" y1="820.5" x2="1965.5" y2="809.5" stroke="#7a7a7a" stroke-width="1"/>
<text x="1495.5" y="831.0" font-size="31.5" text-anchor="end" >0</text>
<text x="1495.5" y="764.3" font-size="31.5" text-anchor="end" >0.005</text>
<text x="1495.5" y="697.7" font-size="31.5" text-anchor="end" >0.01</text>
<text x="1495.5" y="631.0" font-size="31.5" text-anchor="end" >0.015</text>
<text x="1495.5" y="564.3" font-size="31.5" text-anchor="end" >0.02</text>
<text x="1495.5" y="497.7" font-size="31.5" text-anchor="end" >0.025</text>
<text x="1495.5" y="431.0" font-size="31.5" text-anchor="end" >0.03</text>
<text x="1495.5" y="364.3" font-size="31.5" text-anchor="end" >0.035</text>
<text x="1495.5" y="297.7" font-size="31.5" text-anchor="end" >0.04</text>
<text x="1495.5" y="231.0" font-size="31.5" text-anchor="end" >0.045</text>
<text x="1495.5" y="164.3" font-size="31.5" text-anchor="end" >0.05</text>
<text x="1495.5" y="97.7" font-size="31.5" text-anchor="end" >0.055</text>
<text x="1495.5" y="31.0" font-size="31.5" text-anchor="end" >0.06</text>
<text x="1507.5" y="859.5" font-size="31.5" text-anchor="middle" >0</text>
<text x="1564.8" y="859.5" font-size="31.5" text-anchor="middle" >0.2</text>
<text x="1622.0" y="859.5" font-size="31.5" text-anchor="middle" >0.4</text>
<text x="1679.2" y="859.5" font-size="31.5" text-anchor="middle" >0.6</text>
<text x="1736.5" y="859.5" font-size="31.5" text-anchor="middle" >0.8</text>
<text x="1793.8" y="859.5" font-size="31.5" text-anchor="middle" >1</text>
<text x="1851.0" y="859.5" font-size="31.5" text-anchor="middle" >1.2</text>
<text x="1908.2" y="859.5" font-size="31.5" text-anchor="middle" >1.4</text>
<text x="1965.5" y="859.5" font-size="31.5" text-anchor="middle" >1.6</text>
<text x="1597.2" y="897.3" font-size="32.4">Deflection, <tspan font-size="32.5">δ</tspan><tspan font-size="21" dy="8.2">h</tspan><tspan dy="-8.2"> (mm)</tspan></text>
<text transform="translate(1395.0,581.5) rotate(-90)" font-size="31.7">Lateral load, P<tspan font-size="21" dy="9">H</tspan><tspan dy="-9"> (kN/EA)</tspan></text>
<text x="1546.1" y="962.6" font-size="36" style="font-family:'Liberation Sans', sans-serif" >(</text>
<text x="1555.9" y="965.6" font-size="34" style="font-family:'Liberation Sans', sans-serif" >b</text>
<text x="1574.0" y="962.6" font-size="36" style="font-family:'Liberation Sans', sans-serif" >)</text>
<text x="1599.9" y="965.6" font-size="34" style="font-family:'Liberation Sans', sans-serif" >L/D=60,</text>
<text x="1733.1" y="965.6" font-size="34" style="font-family:'Liberation Sans', sans-serif" textLength="76.5" lengthAdjust="spacingAndGlyphs">s=6D</text>
<text x="1521.0" y="42.5" font-size="24.5" textLength="286.3" lengthAdjust="spacingAndGlyphs">In case of L/D=60 and s=6D</text>
<rect x="1521.0" y="44.8" width="287.3" height="1.5" fill="#000"/>
<text x="1521.0" y="78.4" font-size="23.6" text-anchor="start" >Numerical analysis</text>
<text x="1521.0" y="107.0" font-size="23.6" text-anchor="start" >(This study)</text>
<text x="1742.0" y="78.4" font-size="23.6" text-anchor="start" >Model test</text>
<text x="1742.0" y="107.0" font-size="23.6" text-anchor="start" >(Hwang et al.,2020)</text>
<line x1="1527.2" y1="136.4" x2="1626.4" y2="136.4" stroke="#666" stroke-width="1"/>
<rect x="1567.9" y="134.3" width="19.0" height="4.2" fill="#000"/><rect x="1575.3" y="126.9" width="4.2" height="19.0" fill="#000"/>
<text x="1646.0" y="145.0" font-size="24.5" text-anchor="start" >θ=0°</text>
<line x1="1527.2" y1="169.9" x2="1626.4" y2="169.9" stroke="#666" stroke-width="1"/>
<polygon points="1577.4,161.3 1586.0,169.9 1577.4,178.4 1568.8,169.9" fill="none" stroke="#000" stroke-width="1.3"/>
<text x="1646.0" y="178.5" font-size="24.5" text-anchor="start" >θ=+15°</text>
<line x1="1527.2" y1="203.3" x2="1626.4" y2="203.3" stroke="#666" stroke-width="1"/>
<rect x="1568.6" y="194.5" width="17.7" height="17.7" fill="none" stroke="#000" stroke-width="1.3"/>
<text x="1646.0" y="211.9" font-size="24.5" text-anchor="start" >θ=+30°</text>
<line x1="1527.2" y1="236.8" x2="1626.4" y2="236.8" stroke="#666" stroke-width="1"/>
<polygon points="1577.4,229.9 1586.1,243.4 1568.7,243.4" fill="none" stroke="#000" stroke-width="1.3"/>
<text x="1646.0" y="245.3" font-size="24.5" text-anchor="start" >θ=+45°</text>
<line x1="1527.2" y1="270.2" x2="1626.4" y2="270.2" stroke="#666" stroke-width="1"/>
<polygon points="1577.4,277.1 1586.1,263.6 1568.7,263.6" fill="none" stroke="#000" stroke-width="1.3"/>
<text x="1646.0" y="278.8" font-size="24.5" text-anchor="start" >θ=+60°</text>
<line x1="1527.2" y1="303.6" x2="1626.4" y2="303.6" stroke="#666" stroke-width="1"/>
<polygon points="1577.4,294.1 1586.9,303.6 1577.4,313.1 1567.9,303.6" fill="#000" stroke="none" stroke-width="1.3"/>
<text x="1646.0" y="312.2" font-size="24.5" text-anchor="start" >θ=-15°</text>
<line x1="1527.2" y1="337.1" x2="1626.4" y2="337.1" stroke="#666" stroke-width="1"/>
<rect x="1567.9" y="327.6" width="19.0" height="19.0" fill="#000" stroke="none" stroke-width="1.3"/>
<text x="1646.0" y="345.7" font-size="24.5" text-anchor="start" >θ=-30°</text>
<line x1="1527.2" y1="370.6" x2="1626.4" y2="370.6" stroke="#666" stroke-width="1"/>
<polygon points="1577.4,362.6 1586.9,377.8 1567.9,377.8" fill="#000" stroke="none" stroke-width="1.3"/>
<text x="1646.0" y="379.2" font-size="24.5" text-anchor="start" >θ=-45°</text>
<line x1="1527.2" y1="404.0" x2="1626.4" y2="404.0" stroke="#666" stroke-width="1"/>
<polygon points="1577.4,411.9 1586.9,396.7 1567.9,396.7" fill="#000" stroke="none" stroke-width="1.3"/>
<text x="1646.0" y="412.6" font-size="24.5" text-anchor="start" >θ=-60°</text>
<line x1="1740.8" y1="135.6" x2="1751.8" y2="135.6" stroke="#ff7070" stroke-width="1"/>
<line x1="1764.0" y1="135.6" x2="1774.8" y2="135.6" stroke="#ff7070" stroke-width="1"/>
<line x1="1809.8" y1="135.6" x2="1820.8" y2="135.6" stroke="#ff7070" stroke-width="1"/>
<line x1="1832.3" y1="135.6" x2="1842.5" y2="135.6" stroke="#ff7070" stroke-width="1"/>
<rect x="1781.6" y="133.5" width="19.0" height="4.2" fill="#ff0000"/><rect x="1789.0" y="126.1" width="4.2" height="19.0" fill="#ff0000"/>
<text x="1861.4" y="144.2" font-size="24.5" text-anchor="start" >θ=0°</text>
<line x1="1740.8" y1="169.7" x2="1751.8" y2="169.7" stroke="#ff7070" stroke-width="1"/>
<line x1="1764.0" y1="169.7" x2="1774.8" y2="169.7" stroke="#ff7070" stroke-width="1"/>
<line x1="1809.8" y1="169.7" x2="1820.8" y2="169.7" stroke="#ff7070" stroke-width="1"/>
<line x1="1832.3" y1="169.7" x2="1842.5" y2="169.7" stroke="#ff7070" stroke-width="1"/>
<polygon points="1791.1,161.1 1799.7,169.7 1791.1,178.3 1782.5,169.7" fill="none" stroke="#ff0000" stroke-width="1.3"/>
<line x1="1785.1" y1="169.7" x2="1797.1" y2="169.7" stroke="#ff7070" stroke-width="1"/>
<text x="1861.4" y="178.3" font-size="24.5" text-anchor="start" >θ=+15°</text>
<line x1="1740.8" y1="203.8" x2="1751.8" y2="203.8" stroke="#ff7070" stroke-width="1"/>
<line x1="1764.0" y1="203.8" x2="1774.8" y2="203.8" stroke="#ff7070" stroke-width="1"/>
<line x1="1809.8" y1="203.8" x2="1820.8" y2="203.8" stroke="#ff7070" stroke-width="1"/>
<line x1="1832.3" y1="203.8" x2="1842.5" y2="203.8" stroke="#ff7070" stroke-width="1"/>
<rect x="1782.2" y="195.0" width="17.7" height="17.7" fill="none" stroke="#ff0000" stroke-width="1.3"/>
<line x1="1785.1" y1="203.8" x2="1797.1" y2="203.8" stroke="#ff7070" stroke-width="1"/>
<text x="1861.4" y="212.4" font-size="24.5" text-anchor="start" >θ=+30°</text>
<line x1="1740.8" y1="237.9" x2="1751.8" y2="237.9" stroke="#ff7070" stroke-width="1"/>
<line x1="1764.0" y1="237.9" x2="1774.8" y2="237.9" stroke="#ff7070" stroke-width="1"/>
<line x1="1809.8" y1="237.9" x2="1820.8" y2="237.9" stroke="#ff7070" stroke-width="1"/>
<line x1="1832.3" y1="237.9" x2="1842.5" y2="237.9" stroke="#ff7070" stroke-width="1"/>
<polygon points="1791.1,228.4 1800.6,237.9 1791.1,247.4 1781.6,237.9" fill="#ff0000" stroke="none" stroke-width="1.3"/>
<text x="1861.4" y="246.5" font-size="24.5" text-anchor="start" >θ=-15°</text>
<line x1="1740.8" y1="272.0" x2="1751.8" y2="272.0" stroke="#ff7070" stroke-width="1"/>
<line x1="1764.0" y1="272.0" x2="1774.8" y2="272.0" stroke="#ff7070" stroke-width="1"/>
<line x1="1809.8" y1="272.0" x2="1820.8" y2="272.0" stroke="#ff7070" stroke-width="1"/>
<line x1="1832.3" y1="272.0" x2="1842.5" y2="272.0" stroke="#ff7070" stroke-width="1"/>
<rect x="1781.6" y="262.5" width="19.0" height="19.0" fill="#ff0000" stroke="none" stroke-width="1.3"/>
<text x="1861.4" y="280.6" font-size="24.5" text-anchor="start" >θ=-30°</text>
<line x1="1650.5" y1="455" x2="1650.5" y2="820.5" stroke="#5a5a5a" stroke-width="1" stroke-dasharray="4.8,2,0.7,2"/>
<line x1="1657.0" y1="773.9" x2="1696.1" y2="773.9" stroke="#555" stroke-width="1"/>
<polygon points="1651.0,773.9 1659.0,771.1 1659.0,776.6999999999999" fill="#000"/>
<text x="1703.5" y="781.2" font-size="24.8">δ<tspan font-size="17" dy="3.5">h</tspan><tspan dy="-3.5">/D=10%</tspan></text>
<polyline points="1518.4,775.1 1522.2,776.2 1525.6,775.7 1529.4,754.3 1533.7,755.8 1537.4,754.8 1541.7,731.0 1545.5,732.5 1548.9,731.3 1552.7,709.6 1557.0,710.4 1560.7,709.8 1565.0,685.6 1568.8,686.8 1572.2,685.9 1576.0,669.7 1580.3,669.8 1584.0,669.7 1588.3,645.2 1592.1,645.9 1595.5,645.6 1599.3,620.6 1603.1,622.2 1606.5,621.8 1610.3,598.6 1614.6,600.6 1618.3,600.0 1622.6,578.5 1626.7,581.1 1630.1,579.7 1634.2,566.2 1638.5,567.2 1642.2,567.1 1646.5,540.2 1650.5,540.6 1653.8,540.5 1657.8,526.4 1661.6,528.3 1664.8,526.8 1668.6,512.6 1672.7,515.1 1676.1,514.7 1680.2,494.2 1684.2,496.1 1687.5,495.5 1691.5,477.3 1695.8,479.7 1699.5,478.0 1703.8,463.6 1711.8,465.2 1718.8,464.5 1726.8,442.1 1731.1,444.6 1734.7,444.0 1739.0,431.4 1743.1,433.9 1746.6,432.9 1750.7,418.2 1755.0,420.9 1758.6,420.0 1762.9,414.5 1767.2,416.6 1770.9,415.3 1775.2,405.3" fill="none" stroke="#ff5252" stroke-width="0.7" stroke-dasharray="14,2" stroke-dashoffset="0.3"/>
<polyline points="1507.4,819.2 1511.2,819.6 1514.6,819.4 1518.4,770.2 1522.7,770.5 1526.3,770.4 1530.6,723.6 1534.9,725.3 1538.6,724.7 1542.9,691.7 1546.8,693.6 1550.1,693.0 1553.9,661.1 1558.0,662.6 1561.6,661.4 1565.7,637.8 1570.1,640.2 1574.0,639.5 1578.4,609.6 1582.3,611.1 1585.6,610.5 1589.5,580.6 1593.8,582.6 1597.4,581.1 1601.7,560.1 1605.8,562.3 1609.3,560.9 1613.4,534.7 1617.5,534.9 1620.9,534.8 1625.0,510.1 1629.3,512.3 1633.0,510.9 1637.3,493.6 1641.5,495.8 1645.0,495.6 1649.2,489.6 1653.3,491.1 1656.8,490.3 1660.9,477.3 1665.2,478.7 1668.9,478.3 1673.2,469.1 1677.3,471.4 1680.7,470.6 1684.8,461.1 1688.8,463.0 1692.1,461.6 1696.1,455.9 1700.4,456.3 1704.1,456.1 1708.4,443.6 1712.7,448.9 1716.4,447.6 1720.7,446.7" fill="none" stroke="#ff5252" stroke-width="0.7" stroke-dasharray="14,2" stroke-dashoffset="6.2"/>
<polyline points="1518.4,757.9 1522.7,757.9 1526.3,757.9 1530.6,718.0 1534.5,718.8 1537.8,718.5 1541.7,690.0 1546.0,692.1 1549.6,691.4 1553.9,668.0 1558.0,668.9 1561.6,668.5 1565.7,645.0 1570.1,646.4 1574.0,645.7 1578.4,618.0 1582.3,618.4 1585.6,618.3 1589.5,596.1 1593.6,596.7 1597.0,596.6 1601.1,570.8 1605.2,573.6 1608.7,571.4 1612.8,550.0 1616.8,551.4 1620.1,551.1 1624.1,534.7 1628.4,537.6 1632.1,536.2 1636.4,524.8 1640.5,525.6 1643.9,525.1 1648.0,514.1 1652.0,516.9 1655.4,515.1 1659.4,498.2 1663.7,499.9 1667.3,498.7 1671.6,478.9 1675.7,480.5 1679.2,480.3 1683.3,468.1 1687.6,479.3 1691.2,479.2 1695.5,478.9 1699.8,480.4 1703.5,480.2 1707.8,469.1 1712.1,471.2 1715.7,469.9 1720.0,459.0 1724.2,461.7 1727.8,460.5 1732.0,453.7 1736.1,453.8 1739.5,453.7 1743.6,443.6 1747.9,445.1 1751.6,444.4 1755.9,438.1 1760.0,439.0 1763.4,438.4 1767.5,428.3" fill="none" stroke="#ff5252" stroke-width="0.7" stroke-dasharray="14,2" stroke-dashoffset="3.8"/>
<polyline points="1540.5,715.0 1545.2,715.9 1549.2,715.7 1553.9,686.8 1557.8,686.8 1561.1,686.8 1565.0,659.9 1568.8,662.4 1572.2,660.6 1576.0,636.1 1580.3,638.9 1584.0,638.0 1588.3,617.0 1592.1,619.7 1595.5,618.1 1599.3,594.9 1603.7,596.0 1607.5,595.4 1611.9,572.3 1616.0,575.3 1619.4,574.1 1623.5,549.4 1627.5,550.5 1630.8,549.9 1634.8,526.4 1647.5,527.2 1658.3,526.6 1671.0,483.5 1683.0,483.8 1693.3,483.7 1705.3,437.5 1709.6,438.4 1713.3,438.2 1717.6,424.3" fill="none" stroke="#ff5252" stroke-width="0.7" stroke-dasharray="14,2" stroke-dashoffset="2.7"/>
<polyline points="1518.4,751.8 1522.7,752.6 1526.3,752.2 1530.6,710.1 1534.5,710.7 1537.8,710.4 1541.7,677.0 1554.5,679.9 1565.6,679.3 1578.4,618.9 1582.7,621.3 1586.4,620.5 1590.7,609.1 1594.9,611.8 1598.5,611.5 1602.7,588.6 1606.4,590.2 1609.7,589.8 1613.4,573.3 1617.7,573.4 1621.3,573.4 1625.6,562.2 1629.9,563.6 1633.6,563.2 1637.9,545.7 1642.2,547.6 1645.9,546.5 1650.2,530.4 1654.5,530.5 1658.1,530.5 1662.4,520.2 1666.5,530.8 1670.0,530.6 1674.1,530.4 1678.1,531.4 1681.4,530.8 1685.4,508.9 1689.7,521.5 1693.4,521.3 1697.7,519.3 1702.0,520.1 1705.6,519.8 1709.9,519.3 1713.7,531.3 1716.9,530.9 1720.7,530.4 1725.0,531.6 1728.6,530.8 1732.9,530.4 1737.2,541.3 1740.9,541.0 1745.2,540.8 1749.3,554.2 1752.7,553.0 1756.8,551.5 1761.1,552.2 1764.8,552.1 1769.1,551.5" fill="none" stroke="#ff5252" stroke-width="0.7" stroke-dasharray="14,2" stroke-dashoffset="11.0"/>
<polyline points="1508.0,820.5 1510.0,782.0 1518.4,732.2 1589.5,645.2 1674.6,604.7" fill="none" stroke="#606060" stroke-width="0.9"/>
<polyline points="1508.0,820.5 1510.0,784.0 1514.7,737.1 1580.9,656.2 1661.8,615.7" fill="none" stroke="#606060" stroke-width="0.9"/>
<polyline points="1508.0,820.5 1510.0,784.0 1519.0,735.0 1595.6,650.8 1715.7,609.1" fill="none" stroke="#606060" stroke-width="0.9"/>
<polyline points="1508.0,820.5 1510.0,786.0 1529.4,740.8 1584.6,668.9 1666.2,631.2" fill="none" stroke="#606060" stroke-width="0.9"/>
<polyline points="1508.0,820.5 1510.0,786.0 1522.1,738.3 1556.4,699.6 1609.8,659.9 1717.0,619.4" fill="none" stroke="#606060" stroke-width="0.9"/>
<polyline points="1508.0,820.5 1510.0,788.0 1541.7,702.8 1598.1,663.5 1721.9,625.5" fill="none" stroke="#606060" stroke-width="0.9"/>
<polyline points="1508.0,820.5 1510.0,788.0 1539.2,734.6 1623.8,668.5 1818.7,630.5" fill="none" stroke="#606060" stroke-width="0.9"/>
<polyline points="1508.0,820.5 1510.0,790.0 1530.0,745.0 1599.3,683.2 1753.7,648.8" fill="none" stroke="#606060" stroke-width="0.9"/>
<polyline points="1508.0,820.5 1510.0,792.0 1541.0,732.0 1574.8,706.5 1688.8,678.3" fill="none" stroke="#606060" stroke-width="0.9"/>
<rect x="1504.8" y="776.9" width="10.3" height="10.3" fill="none" stroke="#000" stroke-width="1.2"/>
<rect x="1513.2" y="727.1" width="10.3" height="10.3" fill="none" stroke="#000" stroke-width="1.2"/>
<rect x="1584.3" y="640.1" width="10.3" height="10.3" fill="none" stroke="#000" stroke-width="1.2"/>
<rect x="1669.4" y="599.6" width="10.3" height="10.3" fill="none" stroke="#000" stroke-width="1.2"/>
<polygon points="1510.0,780.2 1515.0,787.8 1505.0,787.8" fill="none" stroke="#000" stroke-width="1.2"/>
<polygon points="1514.7,733.3 1519.7,740.9 1509.7,740.9" fill="none" stroke="#000" stroke-width="1.2"/>
<polygon points="1580.9,652.4 1585.9,660.0 1575.9,660.0" fill="none" stroke="#000" stroke-width="1.2"/>
<polygon points="1661.8,611.9 1666.8,619.5 1656.8,619.5" fill="none" stroke="#000" stroke-width="1.2"/>
<polygon points="1510.0,779.1 1514.9,784.0 1510.0,788.9 1505.1,784.0" fill="none" stroke="#000" stroke-width="1.2"/>
<polygon points="1519.0,730.1 1523.9,735.0 1519.0,739.9 1514.1,735.0" fill="none" stroke="#000" stroke-width="1.2"/>
<polygon points="1595.6,645.9 1600.5,650.8 1595.6,655.7 1590.7,650.8" fill="none" stroke="#000" stroke-width="1.2"/>
<polygon points="1715.7,604.2 1720.6,609.1 1715.7,614.0 1710.8,609.1" fill="none" stroke="#000" stroke-width="1.2"/>
<polygon points="1510.0,780.2 1515.8,786.0 1510.0,791.8 1504.2,786.0" fill="#000" stroke="none" stroke-width="1.2"/>
<polygon points="1529.4,735.0 1535.2,740.8 1529.4,746.5 1523.7,740.8" fill="#000" stroke="none" stroke-width="1.2"/>
<polygon points="1584.6,663.1 1590.3,668.9 1584.6,674.6 1578.8,668.9" fill="#000" stroke="none" stroke-width="1.2"/>
<polygon points="1666.2,625.5 1672.0,631.2 1666.2,637.0 1660.5,631.2" fill="#000" stroke="none" stroke-width="1.2"/>
<rect x="1504.2" y="780.2" width="11.5" height="11.5" fill="#000" stroke="none" stroke-width="1.2"/>
<rect x="1516.3" y="732.5" width="11.5" height="11.5" fill="#000" stroke="none" stroke-width="1.2"/>
<rect x="1550.7" y="693.9" width="11.5" height="11.5" fill="#000" stroke="none" stroke-width="1.2"/>
<rect x="1604.0" y="654.1" width="11.5" height="11.5" fill="#000" stroke="none" stroke-width="1.2"/>
<rect x="1711.2" y="613.6" width="11.5" height="11.5" fill="#000" stroke="none" stroke-width="1.2"/>
<rect x="1504.2" y="786.3" width="11.5" height="3.4" fill="#000"/><rect x="1508.3" y="782.2" width="3.4" height="11.5" fill="#000"/>
<rect x="1536.0" y="701.1" width="11.5" height="3.4" fill="#000"/><rect x="1540.0" y="697.0" width="3.4" height="11.5" fill="#000"/>
<rect x="1592.3" y="661.8" width="11.5" height="3.4" fill="#000"/><rect x="1596.4" y="657.8" width="3.4" height="11.5" fill="#000"/>
<rect x="1716.2" y="623.8" width="11.5" height="3.4" fill="#000"/><rect x="1720.2" y="619.8" width="3.4" height="11.5" fill="#000"/>
<polygon points="1510.0,791.8 1515.0,784.2 1505.0,784.2" fill="none" stroke="#000" stroke-width="1.2"/>
<polygon points="1539.2,738.4 1544.2,730.8 1534.2,730.8" fill="none" stroke="#000" stroke-width="1.2"/>
<polygon points="1623.8,672.3 1628.8,664.7 1618.8,664.7" fill="none" stroke="#000" stroke-width="1.2"/>
<polygon points="1818.7,634.3 1823.7,626.7 1813.7,626.7" fill="none" stroke="#000" stroke-width="1.2"/>
<polygon points="1510.0,785.2 1515.8,794.4 1504.2,794.4" fill="#000" stroke="none" stroke-width="1.2"/>
<polygon points="1530.0,740.2 1535.8,749.4 1524.2,749.4" fill="#000" stroke="none" stroke-width="1.2"/>
<polygon points="1599.3,678.4 1605.0,687.6 1593.5,687.6" fill="#000" stroke="none" stroke-width="1.2"/>
<polygon points="1753.7,644.0 1759.5,653.2 1748.0,653.2" fill="#000" stroke="none" stroke-width="1.2"/>
<polygon points="1510.0,796.8 1515.8,787.6 1504.2,787.6" fill="#000" stroke="none" stroke-width="1.2"/>
<polygon points="1541.0,736.8 1546.8,727.6 1535.2,727.6" fill="#000" stroke="none" stroke-width="1.2"/>
<polygon points="1574.8,711.3 1580.5,702.1 1569.0,702.1" fill="#000" stroke="none" stroke-width="1.2"/>
<polygon points="1688.8,683.1 1694.5,673.9 1683.0,673.9" fill="#000" stroke="none" stroke-width="1.2"/>
<rect x="1513.2" y="770.0" width="10.3" height="10.3" fill="none" stroke="#ff0000" stroke-width="1.2"/>
<rect x="1524.2" y="749.1" width="10.3" height="10.3" fill="none" stroke="#ff0000" stroke-width="1.2"/>
<rect x="1536.5" y="725.9" width="10.3" height="10.3" fill="none" stroke="#ff0000" stroke-width="1.2"/>
<rect x="1547.5" y="704.5" width="10.3" height="10.3" fill="none" stroke="#ff0000" stroke-width="1.2"/>
<rect x="1559.8" y="680.5" width="10.3" height="10.3" fill="none" stroke="#ff0000" stroke-width="1.2"/>
<rect x="1570.8" y="664.6" width="10.3" height="10.3" fill="none" stroke="#ff0000" stroke-width="1.2"/>
<rect x="1583.1" y="640.1" width="10.3" height="10.3" fill="none" stroke="#ff0000" stroke-width="1.2"/>
<rect x="1594.1" y="615.5" width="10.3" height="10.3" fill="none" stroke="#ff0000" stroke-width="1.2"/>
<rect x="1605.1" y="593.5" width="10.3" height="10.3" fill="none" stroke="#ff0000" stroke-width="1.2"/>
<rect x="1617.4" y="573.4" width="10.3" height="10.3" fill="none" stroke="#ff0000" stroke-width="1.2"/>
<rect x="1629.0" y="561.1" width="10.3" height="10.3" fill="none" stroke="#ff0000" stroke-width="1.2"/>
<rect x="1641.3" y="535.1" width="10.3" height="10.3" fill="none" stroke="#ff0000" stroke-width="1.2"/>
<rect x="1652.6" y="521.2" width="10.3" height="10.3" fill="none" stroke="#ff0000" stroke-width="1.2"/>
<rect x="1663.4" y="507.5" width="10.3" height="10.3" fill="none" stroke="#ff0000" stroke-width="1.2"/>
<rect x="1675.0" y="489.1" width="10.3" height="10.3" fill="none" stroke="#ff0000" stroke-width="1.2"/>
<rect x="1686.3" y="472.2" width="10.3" height="10.3" fill="none" stroke="#ff0000" stroke-width="1.2"/>
<rect x="1698.6" y="458.5" width="10.3" height="10.3" fill="none" stroke="#ff0000" stroke-width="1.2"/>
<rect x="1721.6" y="437.0" width="10.3" height="10.3" fill="none" stroke="#ff0000" stroke-width="1.2"/>
<rect x="1733.8" y="426.2" width="10.3" height="10.3" fill="none" stroke="#ff0000" stroke-width="1.2"/>
<rect x="1745.5" y="413.1" width="10.3" height="10.3" fill="none" stroke="#ff0000" stroke-width="1.2"/>
<rect x="1757.8" y="409.4" width="10.3" height="10.3" fill="none" stroke="#ff0000" stroke-width="1.2"/>
<rect x="1770.0" y="400.2" width="10.3" height="10.3" fill="none" stroke="#ff0000" stroke-width="1.2"/>
<rect x="1501.7" y="813.5" width="11.5" height="11.5" fill="#ff0000" stroke="none" stroke-width="1.2"/>
<rect x="1512.7" y="764.5" width="11.5" height="11.5" fill="#ff0000" stroke="none" stroke-width="1.2"/>
<rect x="1524.8" y="717.9" width="11.5" height="11.5" fill="#ff0000" stroke="none" stroke-width="1.2"/>
<rect x="1537.2" y="686.0" width="11.5" height="11.5" fill="#ff0000" stroke="none" stroke-width="1.2"/>
<rect x="1548.2" y="655.4" width="11.5" height="11.5" fill="#ff0000" stroke="none" stroke-width="1.2"/>
<rect x="1560.0" y="632.0" width="11.5" height="11.5" fill="#ff0000" stroke="none" stroke-width="1.2"/>
<rect x="1572.7" y="603.9" width="11.5" height="11.5" fill="#ff0000" stroke="none" stroke-width="1.2"/>
<rect x="1583.8" y="574.9" width="11.5" height="11.5" fill="#ff0000" stroke="none" stroke-width="1.2"/>
<rect x="1596.0" y="554.4" width="11.5" height="11.5" fill="#ff0000" stroke="none" stroke-width="1.2"/>
<rect x="1607.7" y="529.0" width="11.5" height="11.5" fill="#ff0000" stroke="none" stroke-width="1.2"/>
<rect x="1619.2" y="504.4" width="11.5" height="11.5" fill="#ff0000" stroke="none" stroke-width="1.2"/>
<rect x="1631.5" y="487.9" width="11.5" height="11.5" fill="#ff0000" stroke="none" stroke-width="1.2"/>
<rect x="1643.5" y="483.9" width="11.5" height="11.5" fill="#ff0000" stroke="none" stroke-width="1.2"/>
<rect x="1655.2" y="471.6" width="11.5" height="11.5" fill="#ff0000" stroke="none" stroke-width="1.2"/>
<rect x="1667.5" y="463.4" width="11.5" height="11.5" fill="#ff0000" stroke="none" stroke-width="1.2"/>
<rect x="1679.0" y="455.4" width="11.5" height="11.5" fill="#ff0000" stroke="none" stroke-width="1.2"/>
<rect x="1690.3" y="450.1" width="11.5" height="11.5" fill="#ff0000" stroke="none" stroke-width="1.2"/>
<rect x="1702.7" y="437.9" width="11.5" height="11.5" fill="#ff0000" stroke="none" stroke-width="1.2"/>
<rect x="1715.0" y="440.9" width="11.5" height="11.5" fill="#ff0000" stroke="none" stroke-width="1.2"/>
<polygon points="1518.4,752.1 1524.2,757.9 1518.4,763.6 1512.7,757.9" fill="#ff0000" stroke="none" stroke-width="1.2"/>
<polygon points="1530.6,712.2 1536.3,718.0 1530.6,723.8 1524.8,718.0" fill="#ff0000" stroke="none" stroke-width="1.2"/>
<polygon points="1541.7,684.2 1547.5,690.0 1541.7,695.8 1536.0,690.0" fill="#ff0000" stroke="none" stroke-width="1.2"/>
<polygon points="1553.9,662.2 1559.7,668.0 1553.9,673.8 1548.2,668.0" fill="#ff0000" stroke="none" stroke-width="1.2"/>
<polygon points="1565.7,639.2 1571.5,645.0 1565.7,650.8 1560.0,645.0" fill="#ff0000" stroke="none" stroke-width="1.2"/>
<polygon points="1578.4,612.2 1584.2,618.0 1578.4,623.8 1572.7,618.0" fill="#ff0000" stroke="none" stroke-width="1.2"/>
<polygon points="1589.5,590.4 1595.2,596.1 1589.5,601.9 1583.8,596.1" fill="#ff0000" stroke="none" stroke-width="1.2"/>
<polygon points="1601.1,565.0 1606.8,570.8 1601.1,576.5 1595.3,570.8" fill="#ff0000" stroke="none" stroke-width="1.2"/>
<polygon points="1612.8,544.2 1618.5,550.0 1612.8,555.8 1607.0,550.0" fill="#ff0000" stroke="none" stroke-width="1.2"/>
<polygon points="1624.1,529.0 1629.8,534.7 1624.1,540.5 1618.3,534.7" fill="#ff0000" stroke="none" stroke-width="1.2"/>
<polygon points="1636.4,519.0 1642.2,524.8 1636.4,530.5 1630.7,524.8" fill="#ff0000" stroke="none" stroke-width="1.2"/>
<polygon points="1648.0,508.4 1653.8,514.1 1648.0,519.9 1642.2,514.1" fill="#ff0000" stroke="none" stroke-width="1.2"/>
<polygon points="1659.4,492.4 1665.2,498.2 1659.4,503.9 1653.7,498.2" fill="#ff0000" stroke="none" stroke-width="1.2"/>
<polygon points="1671.6,473.1 1677.3,478.9 1671.6,484.6 1665.8,478.9" fill="#ff0000" stroke="none" stroke-width="1.2"/>
<polygon points="1683.3,462.4 1689.0,468.1 1683.3,473.9 1677.5,468.1" fill="#ff0000" stroke="none" stroke-width="1.2"/>
<polygon points="1695.5,473.1 1701.2,478.9 1695.5,484.6 1689.8,478.9" fill="#ff0000" stroke="none" stroke-width="1.2"/>
<polygon points="1707.8,463.4 1713.5,469.1 1707.8,474.9 1702.0,469.1" fill="#ff0000" stroke="none" stroke-width="1.2"/>
<polygon points="1720.0,453.2 1725.8,459.0 1720.0,464.8 1714.2,459.0" fill="#ff0000" stroke="none" stroke-width="1.2"/>
<polygon points="1732.0,447.9 1737.8,453.7 1732.0,459.4 1726.2,453.7" fill="#ff0000" stroke="none" stroke-width="1.2"/>
<polygon points="1743.6,437.9 1749.3,443.6 1743.6,449.4 1737.8,443.6" fill="#ff0000" stroke="none" stroke-width="1.2"/>
<polygon points="1755.9,432.4 1761.7,438.1 1755.9,443.9 1750.2,438.1" fill="#ff0000" stroke="none" stroke-width="1.2"/>
<polygon points="1767.5,422.6 1773.2,428.3 1767.5,434.1 1761.8,428.3" fill="#ff0000" stroke="none" stroke-width="1.2"/>
<polygon points="1540.5,710.1 1545.4,715.0 1540.5,719.9 1535.6,715.0" fill="none" stroke="#ff0000" stroke-width="1.2"/>
<polygon points="1553.9,681.9 1558.8,686.8 1553.9,691.7 1549.0,686.8" fill="none" stroke="#ff0000" stroke-width="1.2"/>
<polygon points="1565.0,655.0 1569.9,659.9 1565.0,664.8 1560.1,659.9" fill="none" stroke="#ff0000" stroke-width="1.2"/>
<polygon points="1576.0,631.2 1580.9,636.1 1576.0,641.0 1571.1,636.1" fill="none" stroke="#ff0000" stroke-width="1.2"/>
<polygon points="1588.3,612.1 1593.2,617.0 1588.3,621.9 1583.4,617.0" fill="none" stroke="#ff0000" stroke-width="1.2"/>
<polygon points="1599.3,590.0 1604.2,594.9 1599.3,599.8 1594.4,594.9" fill="none" stroke="#ff0000" stroke-width="1.2"/>
<polygon points="1611.9,567.4 1616.8,572.3 1611.9,577.2 1607.0,572.3" fill="none" stroke="#ff0000" stroke-width="1.2"/>
<polygon points="1623.5,544.5 1628.4,549.4 1623.5,554.3 1618.6,549.4" fill="none" stroke="#ff0000" stroke-width="1.2"/>
<polygon points="1634.8,521.5 1639.7,526.4 1634.8,531.3 1629.9,526.4" fill="none" stroke="#ff0000" stroke-width="1.2"/>
<polygon points="1671.0,478.6 1675.9,483.5 1671.0,488.4 1666.1,483.5" fill="none" stroke="#ff0000" stroke-width="1.2"/>
<polygon points="1705.3,432.6 1710.2,437.5 1705.3,442.4 1700.4,437.5" fill="none" stroke="#ff0000" stroke-width="1.2"/>
<polygon points="1717.6,419.4 1722.5,424.3 1717.6,429.2 1712.7,424.3" fill="none" stroke="#ff0000" stroke-width="1.2"/>
<rect x="1512.7" y="750.1" width="11.5" height="3.4" fill="#ff0000"/><rect x="1516.7" y="746.0" width="3.4" height="11.5" fill="#ff0000"/>
<rect x="1524.8" y="708.4" width="11.5" height="3.4" fill="#ff0000"/><rect x="1528.9" y="704.4" width="3.4" height="11.5" fill="#ff0000"/>
<rect x="1536.0" y="675.3" width="11.5" height="3.4" fill="#ff0000"/><rect x="1540.0" y="671.2" width="3.4" height="11.5" fill="#ff0000"/>
<rect x="1572.7" y="617.2" width="11.5" height="3.4" fill="#ff0000"/><rect x="1576.7" y="613.1" width="3.4" height="11.5" fill="#ff0000"/>
<rect x="1585.0" y="607.4" width="11.5" height="3.4" fill="#ff0000"/><rect x="1589.0" y="603.4" width="3.4" height="11.5" fill="#ff0000"/>
<rect x="1597.0" y="586.9" width="11.5" height="3.4" fill="#ff0000"/><rect x="1601.0" y="582.9" width="3.4" height="11.5" fill="#ff0000"/>
<rect x="1607.7" y="571.6" width="11.5" height="3.4" fill="#ff0000"/><rect x="1611.7" y="567.5" width="3.4" height="11.5" fill="#ff0000"/>
<rect x="1619.8" y="560.5" width="11.5" height="3.4" fill="#ff0000"/><rect x="1623.9" y="556.5" width="3.4" height="11.5" fill="#ff0000"/>
<rect x="1632.2" y="544.0" width="11.5" height="3.4" fill="#ff0000"/><rect x="1636.2" y="540.0" width="3.4" height="11.5" fill="#ff0000"/>
<rect x="1644.5" y="528.7" width="11.5" height="3.4" fill="#ff0000"/><rect x="1648.5" y="524.6" width="3.4" height="11.5" fill="#ff0000"/>
<rect x="1656.7" y="518.5" width="11.5" height="3.4" fill="#ff0000"/><rect x="1660.7" y="514.5" width="3.4" height="11.5" fill="#ff0000"/>
<rect x="1668.3" y="528.7" width="11.5" height="3.4" fill="#ff0000"/><rect x="1672.4" y="524.6" width="3.4" height="11.5" fill="#ff0000"/>
<rect x="1679.7" y="507.2" width="11.5" height="3.4" fill="#ff0000"/><rect x="1683.7" y="503.1" width="3.4" height="11.5" fill="#ff0000"/>
<rect x="1692.0" y="517.6" width="11.5" height="3.4" fill="#ff0000"/><rect x="1696.0" y="513.5" width="3.4" height="11.5" fill="#ff0000"/>
<rect x="1704.2" y="517.6" width="11.5" height="3.4" fill="#ff0000"/><rect x="1708.2" y="513.5" width="3.4" height="11.5" fill="#ff0000"/>
<rect x="1715.0" y="528.7" width="11.5" height="3.4" fill="#ff0000"/><rect x="1719.0" y="524.6" width="3.4" height="11.5" fill="#ff0000"/>
<rect x="1727.2" y="528.7" width="11.5" height="3.4" fill="#ff0000"/><rect x="1731.2" y="524.6" width="3.4" height="11.5" fill="#ff0000"/>
<rect x="1739.5" y="539.1" width="11.5" height="3.4" fill="#ff0000"/><rect x="1743.5" y="535.0" width="3.4" height="11.5" fill="#ff0000"/>
<rect x="1751.0" y="549.8" width="11.5" height="3.4" fill="#ff0000"/><rect x="1755.1" y="545.8" width="3.4" height="11.5" fill="#ff0000"/>
<rect x="1763.3" y="549.8" width="11.5" height="3.4" fill="#ff0000"/><rect x="1767.4" y="545.8" width="3.4" height="11.5" fill="#ff0000"/>
</svg></body></html>
